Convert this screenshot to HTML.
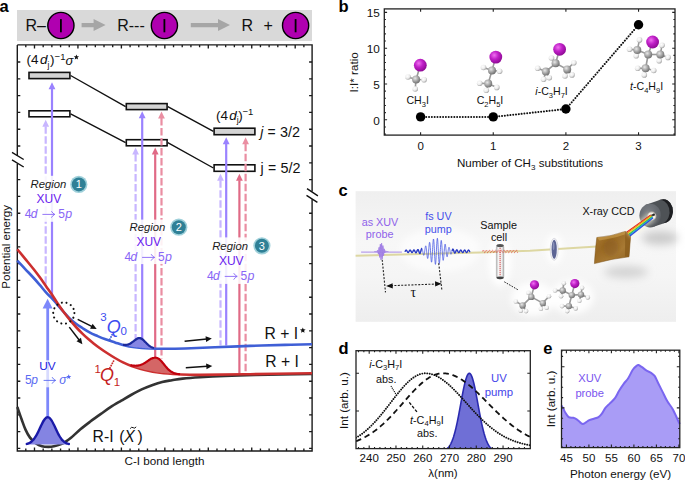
<!DOCTYPE html>
<html><head><meta charset="utf-8"><style>
html,body{margin:0;padding:0;background:#fff;width:685px;height:481px;overflow:hidden}
svg{display:block}
text{font-family:"Liberation Sans", sans-serif}
</style></head><body>
<svg width="685" height="481" viewBox="0 0 685 481">
<defs>
<radialGradient id="gI" cx="0.38" cy="0.35" r="0.7"><stop offset="0" stop-color="#f070f0"/><stop offset="0.45" stop-color="#c020c8"/><stop offset="1" stop-color="#8a0890"/></radialGradient>
<radialGradient id="gC" cx="0.38" cy="0.35" r="0.7"><stop offset="0" stop-color="#e8e8e8"/><stop offset="0.5" stop-color="#a8a8a8"/><stop offset="1" stop-color="#6a6a6a"/></radialGradient>
<radialGradient id="gH" cx="0.38" cy="0.35" r="0.7"><stop offset="0" stop-color="#ffffff"/><stop offset="0.55" stop-color="#ececec"/><stop offset="1" stop-color="#9c9c9c"/></radialGradient>
<linearGradient id="cbg" x1="0" y1="0" x2="0" y2="1"><stop offset="0" stop-color="#efefef"/><stop offset="0.4" stop-color="#f7f7f7"/><stop offset="0.65" stop-color="#f5f5f5"/><stop offset="1" stop-color="#eeeeee"/></linearGradient>
<linearGradient id="cellg" x1="0" y1="0" x2="1" y2="0"><stop offset="0" stop-color="#a8a8a8"/><stop offset="0.25" stop-color="#f6f6f6"/><stop offset="0.75" stop-color="#eeeeee"/><stop offset="1" stop-color="#a0a0a0"/></linearGradient>
<linearGradient id="grat" x1="0" y1="0" x2="1" y2="1"><stop offset="0" stop-color="#a87a30"/><stop offset="0.35" stop-color="#9a6a24"/><stop offset="0.65" stop-color="#a87a34"/><stop offset="1" stop-color="#8a5e1e"/></linearGradient>
<filter id="blur2" x="-50%" y="-50%" width="200%" height="200%"><feGaussianBlur stdDeviation="2"/></filter>
<filter id="blur3" x="-50%" y="-50%" width="200%" height="200%"><feGaussianBlur stdDeviation="3"/></filter>
<filter id="blur4" x="-50%" y="-50%" width="200%" height="200%"><feGaussianBlur stdDeviation="4"/></filter>
<radialGradient id="ccdf" cx="0.4" cy="0.35" r="0.75"><stop offset="0" stop-color="#7a7e84"/><stop offset="0.7" stop-color="#62666c"/><stop offset="1" stop-color="#45484c"/></radialGradient>
</defs>
<text x="-0.6" y="12.2" font-size="16.5" font-weight="bold" fill="#000">a</text>
<rect x="17" y="10" width="295" height="31" fill="#d9d9d9"/>
<text x="25.50" y="30.90" font-size="16.00" fill="#111" text-anchor="start" >R–</text>
<circle cx="60.90" cy="25.50" r="13.1" fill="#b000b0" stroke="#000" stroke-width="1.4"/>
<rect x="60.00" y="19.10" width="1.8" height="13.2" fill="#000"/>
<path d="M81.60,23.00 H93.60 V19.10 L105.60,25.10 L93.60,31.10 V27.20 H81.60 Z" fill="#a6a6a6"/>
<text x="117.20" y="30.90" font-size="16.00" fill="#111" text-anchor="start" >R---</text>
<circle cx="164.40" cy="25.50" r="13.1" fill="#b000b0" stroke="#000" stroke-width="1.4"/>
<rect x="163.50" y="19.10" width="1.8" height="13.2" fill="#000"/>
<path d="M190.80,23.00 H218.00 V19.10 L230.00,25.10 L218.00,31.10 V27.20 H190.80 Z" fill="#a6a6a6"/>
<text x="241.50" y="30.90" font-size="16.00" fill="#111" text-anchor="start" >R</text>
<text x="263.50" y="30.90" font-size="16.00" fill="#111" text-anchor="start" >+</text>
<circle cx="295.60" cy="25.50" r="13.1" fill="#b000b0" stroke="#000" stroke-width="1.4"/>
<rect x="294.70" y="19.10" width="1.8" height="13.2" fill="#000"/>
<path d="M25.80,44.90V47.30M25.80,451.00V448.60M34.49,44.90V48.50M34.49,451.00V447.40M43.18,44.90V47.30M43.18,451.00V448.60M51.87,44.90V47.30M51.87,451.00V448.60M60.56,44.90V47.30M60.56,451.00V448.60M69.25,44.90V47.30M69.25,451.00V448.60M77.94,44.90V48.50M77.94,451.00V447.40M86.63,44.90V47.30M86.63,451.00V448.60M95.32,44.90V47.30M95.32,451.00V448.60M104.01,44.90V47.30M104.01,451.00V448.60M112.70,44.90V47.30M112.70,451.00V448.60M121.39,44.90V48.50M121.39,451.00V447.40M130.08,44.90V47.30M130.08,451.00V448.60M138.77,44.90V47.30M138.77,451.00V448.60M147.46,44.90V47.30M147.46,451.00V448.60M156.15,44.90V47.30M156.15,451.00V448.60M164.84,44.90V48.50M164.84,451.00V447.40M173.53,44.90V47.30M173.53,451.00V448.60M182.22,44.90V47.30M182.22,451.00V448.60M190.91,44.90V47.30M190.91,451.00V448.60M199.60,44.90V47.30M199.60,451.00V448.60M208.29,44.90V48.50M208.29,451.00V447.40M216.98,44.90V47.30M216.98,451.00V448.60M225.67,44.90V47.30M225.67,451.00V448.60M234.36,44.90V47.30M234.36,451.00V448.60M243.05,44.90V47.30M243.05,451.00V448.60M251.74,44.90V48.50M251.74,451.00V447.40M260.43,44.90V47.30M260.43,451.00V448.60M269.12,44.90V47.30M269.12,451.00V448.60M277.81,44.90V47.30M277.81,451.00V448.60M286.50,44.90V47.30M286.50,451.00V448.60M295.19,44.90V48.50M295.19,451.00V447.40M303.88,44.90V47.30M303.88,451.00V448.60M17.30,62.00H20.30M312.10,62.00H309.10M17.30,78.80H20.30M312.10,78.80H309.10M17.30,95.60H20.30M312.10,95.60H309.10M17.30,112.40H20.30M312.10,112.40H309.10M17.30,129.20H20.30M312.10,129.20H309.10M17.30,146.00H20.30M312.10,146.00H309.10M312.10,162.80H309.10M17.30,179.60H20.30M312.10,179.60H309.10M17.30,196.40H20.30M17.30,213.20H20.30M312.10,213.20H309.10M17.30,230.00H20.30M312.10,230.00H309.10M17.30,246.80H20.30M312.10,246.80H309.10M17.30,263.60H20.30M312.10,263.60H309.10M17.30,280.40H20.30M312.10,280.40H309.10M17.30,297.20H20.30M312.10,297.20H309.10M17.30,314.00H20.30M312.10,314.00H309.10M17.30,330.80H20.30M312.10,330.80H309.10M17.30,347.60H20.30M312.10,347.60H309.10M17.30,364.40H20.30M312.10,364.40H309.10M17.30,381.20H20.30M312.10,381.20H309.10M17.30,398.00H20.30M312.10,398.00H309.10M17.30,414.80H20.30M312.10,414.80H309.10M17.30,431.60H20.30M312.10,431.60H309.10M17.30,448.40H20.30M312.10,448.40H309.10" stroke="#1a1a1a" stroke-width="1.35" fill="none"/>
<path d="M17.30,44.90 H312.10 V191.5 M312.10,199.2 V451.00 H17.30 V163.8 M17.30,155.8 V44.90" stroke="#1a1a1a" stroke-width="1.4" fill="none"/>
<path d="M12,152.3 L23.7,159.5 M12,159.8 L23.7,167 M307,188.7 L317.9,195.8 M306.5,195.4 L317.4,202.4" stroke="#111" stroke-width="1.4"/>
<path d="M70.6,75.5 L125.6,106.6 M167.8,106.6 L213.4,131.4 M70.6,113.8 L125.6,142.7 M167.8,142.7 L213.4,168" stroke="#111" stroke-width="1.4" fill="none"/>
<rect x="29.00" y="72.40" width="40.90" height="6.20" fill="#d4d4d4" stroke="#111" stroke-width="1.6"/>
<rect x="29.00" y="110.80" width="40.90" height="6.00" fill="#fff" stroke="#111" stroke-width="1.6"/>
<rect x="126.30" y="103.60" width="40.80" height="6.00" fill="#d4d4d4" stroke="#111" stroke-width="1.6"/>
<rect x="126.30" y="139.70" width="40.80" height="6.10" fill="#fff" stroke="#111" stroke-width="1.6"/>
<rect x="214.10" y="128.20" width="40.80" height="6.50" fill="#d4d4d4" stroke="#111" stroke-width="1.6"/>
<rect x="214.10" y="164.80" width="40.80" height="6.50" fill="#fff" stroke="#111" stroke-width="1.6"/>
<line x1="45.70" y1="126.30" x2="45.70" y2="286.00" stroke="#c8b6ff" stroke-width="2.20" stroke-dasharray="7.5,2.5"/>
<path d="M45.70,119.80 L49.10,126.80 L42.30,126.80 Z" fill="#c8b6ff"/>
<line x1="52.00" y1="88.80" x2="52.00" y2="298.00" stroke="#9a82ff" stroke-width="2.20"/>
<path d="M52.00,82.30 L55.40,89.30 L48.60,89.30 Z" fill="#9a82ff"/>
<line x1="135.60" y1="154.10" x2="135.60" y2="339.50" stroke="#c8b6ff" stroke-width="2.20" stroke-dasharray="7.5,2.5"/>
<path d="M135.60,147.60 L139.00,154.60 L132.20,154.60 Z" fill="#c8b6ff"/>
<line x1="142.20" y1="117.70" x2="142.20" y2="338.50" stroke="#9a82ff" stroke-width="2.20"/>
<path d="M142.20,111.20 L145.60,118.20 L138.80,118.20 Z" fill="#9a82ff"/>
<line x1="155.20" y1="154.10" x2="155.20" y2="357.50" stroke="#e06a86" stroke-width="2.20"/>
<path d="M155.20,147.60 L158.60,154.60 L151.80,154.60 Z" fill="#e06a86"/>
<line x1="161.50" y1="118.10" x2="161.50" y2="358.50" stroke="#ea8ea2" stroke-width="2.20" stroke-dasharray="7.5,2.5"/>
<path d="M161.50,111.60 L164.90,118.60 L158.10,118.60 Z" fill="#ea8ea2"/>
<line x1="220.50" y1="180.30" x2="220.50" y2="345.50" stroke="#c8b6ff" stroke-width="2.20" stroke-dasharray="7.5,2.5"/>
<path d="M220.50,173.80 L223.90,180.80 L217.10,180.80 Z" fill="#c8b6ff"/>
<line x1="226.20" y1="143.70" x2="226.20" y2="345.50" stroke="#9a82ff" stroke-width="2.20"/>
<path d="M226.20,137.20 L229.60,144.20 L222.80,144.20 Z" fill="#9a82ff"/>
<line x1="239.40" y1="180.30" x2="239.40" y2="373.50" stroke="#e06a86" stroke-width="2.20"/>
<path d="M239.40,173.80 L242.80,180.80 L236.00,180.80 Z" fill="#e06a86"/>
<line x1="245.60" y1="143.70" x2="245.60" y2="373.50" stroke="#ea8ea2" stroke-width="2.20" stroke-dasharray="7.5,2.5"/>
<path d="M245.60,137.20 L249.00,144.20 L242.20,144.20 Z" fill="#ea8ea2"/>
<text x="26.60" y="64.40" font-size="13.50" fill="#111" >(</text>
<text x="31.00" y="64.40" font-size="13.50" fill="#111" >4</text>
<text x="40.00" y="64.40" font-size="13.50" fill="#111" font-style="italic" >d</text>
<text x="47.60" y="67.60" font-size="8.50" fill="#111" >j</text>
<text x="50.00" y="64.40" font-size="13.50" fill="#111" >)</text>
<text x="54.60" y="60.00" font-size="9.50" fill="#111" >−1</text>
<text x="65.60" y="64.60" font-size="13.00" fill="#111" font-style="italic" >σ</text>
<polygon points="76.40,54.40 77.14,56.18 79.06,56.33 77.60,57.59 78.05,59.47 76.40,58.46 74.75,59.47 75.20,57.59 73.74,56.33 75.66,56.18" fill="#111"/>
<text x="216.00" y="120.00" font-size="13.50" fill="#111" >(</text>
<text x="220.40" y="120.00" font-size="13.50" fill="#111" >4</text>
<text x="229.20" y="120.00" font-size="13.50" fill="#111" font-style="italic" >d</text>
<text x="236.80" y="123.00" font-size="8.50" fill="#111" >j</text>
<text x="238.20" y="120.00" font-size="13.50" fill="#111" >)</text>
<text x="242.40" y="115.00" font-size="9.50" fill="#111" >−1</text>
<text x="260.20" y="137.00" font-size="14.00" fill="#111" font-style="italic" >j</text>
<text x="267.40" y="137.00" font-size="14.00" fill="#111" >=</text>
<text x="280.00" y="137.00" font-size="14.40" fill="#111" >3/2</text>
<text x="260.60" y="172.80" font-size="14.00" fill="#111" >j</text>
<text x="268.00" y="172.80" font-size="14.00" fill="#111" >=</text>
<text x="280.40" y="172.80" font-size="14.40" fill="#111" >5/2</text>
<path d="M17.30,407.00 C18.00,409.00 20.13,415.23 21.50,419.00 C22.87,422.77 24.08,426.50 25.50,429.60 C26.92,432.70 28.25,435.30 30.00,437.60 C31.75,439.90 34.00,441.97 36.00,443.40 C38.00,444.83 39.95,445.62 42.00,446.20 C44.05,446.78 46.30,446.88 48.30,446.90 C50.30,446.92 51.97,446.72 54.00,446.30 C56.03,445.88 58.50,445.22 60.50,444.40 C62.50,443.58 64.25,442.50 66.00,441.40 C67.75,440.30 68.60,439.82 71.00,437.80 C73.40,435.78 77.23,431.97 80.40,429.30 C83.57,426.63 86.58,424.37 90.00,421.80 C93.42,419.23 97.48,416.33 100.90,413.90 C104.32,411.47 107.10,409.40 110.50,407.20 C113.90,405.00 117.88,402.73 121.30,400.70 C124.72,398.67 127.60,396.88 131.00,395.00 C134.40,393.12 138.20,391.03 141.70,389.40 C145.20,387.77 148.58,386.45 152.00,385.20 C155.42,383.95 158.87,382.73 162.20,381.90 C165.53,381.07 168.60,380.75 172.00,380.20 C175.40,379.65 177.93,379.10 182.60,378.60 C187.27,378.10 192.93,377.65 200.00,377.20 C207.07,376.75 215.83,376.27 225.00,375.90 C234.17,375.53 240.50,375.32 255.00,375.00 C269.50,374.68 302.50,374.17 312.00,374.00" stroke="#333" stroke-width="2.6" fill="none"/>
<rect x="23.40" y="175.80" width="50.60" height="46.00" fill="#fff" fill-opacity="0.88"/>
<rect x="104.40" y="219.60" width="88.30" height="44.50" fill="#fff" fill-opacity="0.88"/>
<rect x="202.30" y="237.40" width="56.70" height="46.50" fill="#fff" fill-opacity="0.88"/>
<rect x="24.10" y="360.20" width="55.70" height="27.10" fill="#fff" fill-opacity="0.88"/>
<path d="M17.30,260.60 C18.58,261.97 22.27,265.90 25.00,268.80 C27.73,271.70 31.20,275.27 33.70,278.00 C36.20,280.73 37.92,282.77 40.00,285.20 C42.08,287.63 44.13,290.33 46.20,292.60 C48.27,294.87 50.52,296.77 52.40,298.80 C54.28,300.83 55.62,302.60 57.50,304.80 C59.38,307.00 61.63,309.68 63.70,312.00 C65.77,314.32 67.85,316.73 69.90,318.70 C71.95,320.67 73.92,322.25 76.00,323.80 C78.08,325.35 80.07,326.53 82.40,328.00 C84.73,329.47 87.57,331.30 90.00,332.60 C92.43,333.90 94.53,334.73 97.00,335.80 C99.47,336.87 101.80,337.90 104.80,339.00 C107.80,340.10 111.97,341.40 115.00,342.40 C118.03,343.40 119.67,344.18 123.00,345.00 C126.33,345.82 130.50,346.72 135.00,347.30 C139.50,347.88 145.00,348.25 150.00,348.50 C155.00,348.75 159.17,348.80 165.00,348.80 C170.83,348.80 176.67,348.75 185.00,348.50 C193.33,348.25 204.17,347.73 215.00,347.30 C225.83,346.87 238.33,346.30 250.00,345.90 C261.67,345.50 274.67,345.17 285.00,344.90 C295.33,344.63 307.50,344.40 312.00,344.30" stroke="#3f5fd6" stroke-width="2.6" fill="none"/>
<path d="M17.30,249.20 C18.58,250.77 22.27,255.25 25.00,258.60 C27.73,261.95 31.20,266.13 33.70,269.30 C36.20,272.47 37.92,274.75 40.00,277.60 C42.08,280.45 44.13,283.47 46.20,286.40 C48.27,289.33 50.52,292.40 52.40,295.20 C54.28,298.00 55.62,300.40 57.50,303.20 C59.38,306.00 61.63,309.22 63.70,312.00 C65.77,314.78 67.85,317.40 69.90,319.90 C71.95,322.40 73.92,324.72 76.00,327.00 C78.08,329.28 80.40,331.63 82.40,333.60 C84.40,335.57 86.13,337.17 88.00,338.80 C89.87,340.43 91.60,341.83 93.60,343.40 C95.60,344.97 97.77,346.60 100.00,348.20 C102.23,349.80 104.50,351.37 107.00,353.00 C109.50,354.63 112.33,356.43 115.00,358.00 C117.67,359.57 120.23,361.07 123.00,362.40 C125.77,363.73 127.93,364.73 131.60,366.00 C135.27,367.27 140.27,368.87 145.00,370.00 C149.73,371.13 154.42,372.08 160.00,372.80 C165.58,373.52 171.83,373.95 178.50,374.30 C185.17,374.65 188.08,374.92 200.00,374.90 C211.92,374.88 231.33,374.48 250.00,374.20 C268.67,373.92 301.67,373.37 312.00,373.20" stroke="#cc2f2f" stroke-width="2.6" fill="none"/>
<path d="M123.00,344.79 C123.13,344.80 123.52,344.84 123.78,344.85 C124.03,344.87 124.29,344.88 124.55,344.88 C124.81,344.89 125.07,344.89 125.33,344.88 C125.58,344.87 125.84,344.86 126.10,344.83 C126.36,344.81 126.62,344.77 126.88,344.73 C127.13,344.69 127.39,344.63 127.65,344.57 C127.91,344.51 128.17,344.43 128.43,344.35 C128.68,344.26 128.94,344.16 129.20,344.05 C129.46,343.94 129.72,343.82 129.97,343.69 C130.23,343.55 130.49,343.41 130.75,343.25 C131.01,343.10 131.27,342.93 131.53,342.75 C131.78,342.58 132.04,342.39 132.30,342.20 C132.56,342.01 132.82,341.81 133.07,341.62 C133.33,341.42 133.59,341.21 133.85,341.01 C134.11,340.82 134.37,340.62 134.62,340.42 C134.88,340.22 135.14,340.02 135.40,339.82 C135.66,339.62 135.92,339.42 136.18,339.24 C136.43,339.06 136.69,338.89 136.95,338.75 C137.21,338.60 137.47,338.48 137.72,338.38 C137.98,338.27 138.24,338.19 138.50,338.14 C138.76,338.09 139.02,338.06 139.28,338.06 C139.53,338.05 139.79,338.08 140.05,338.13 C140.31,338.18 140.57,338.26 140.82,338.36 C141.08,338.47 141.34,338.60 141.60,338.75 C141.86,338.90 142.12,339.07 142.38,339.26 C142.63,339.45 142.89,339.67 143.15,339.89 C143.41,340.12 143.67,340.36 143.93,340.61 C144.18,340.86 144.44,341.12 144.70,341.39 C144.96,341.65 145.22,341.92 145.47,342.19 C145.73,342.46 145.99,342.74 146.25,343.01 C146.51,343.27 146.77,343.54 147.03,343.80 C147.28,344.06 147.54,344.31 147.80,344.55 C148.06,344.79 148.32,345.03 148.57,345.25 C148.83,345.47 149.09,345.69 149.35,345.88 C149.61,346.08 149.87,346.27 150.12,346.44 C150.38,346.61 150.64,346.75 150.90,346.89 C151.16,347.03 151.42,347.15 151.68,347.27 C151.93,347.38 152.19,347.49 152.45,347.58 C152.71,347.68 152.97,347.76 153.22,347.84 C153.48,347.91 153.87,348.01 154.00,348.04 L154.00,348.58 L153.22,348.56 L152.45,348.55 L151.68,348.53 L150.90,348.52 L150.12,348.50 L149.35,348.45 L148.57,348.39 L147.80,348.32 L147.03,348.26 L146.25,348.20 L145.47,348.14 L144.70,348.08 L143.93,348.01 L143.15,347.95 L142.38,347.89 L141.60,347.83 L140.82,347.77 L140.05,347.70 L139.28,347.64 L138.50,347.58 L137.72,347.52 L136.95,347.46 L136.18,347.39 L135.40,347.33 L134.62,347.23 L133.85,347.08 L133.07,346.93 L132.30,346.78 L131.53,346.63 L130.75,346.49 L129.97,346.34 L129.20,346.19 L128.43,346.04 L127.65,345.89 L126.88,345.74 L126.10,345.59 L125.33,345.45 L124.55,345.30 L123.78,345.15 L123.00,345.00 Z" fill="#8686e4" stroke="none"/>
<path d="M123.00,344.79 C123.13,344.80 123.52,344.84 123.78,344.85 C124.03,344.87 124.29,344.88 124.55,344.88 C124.81,344.89 125.07,344.89 125.33,344.88 C125.58,344.87 125.84,344.86 126.10,344.83 C126.36,344.81 126.62,344.77 126.88,344.73 C127.13,344.69 127.39,344.63 127.65,344.57 C127.91,344.51 128.17,344.43 128.43,344.35 C128.68,344.26 128.94,344.16 129.20,344.05 C129.46,343.94 129.72,343.82 129.97,343.69 C130.23,343.55 130.49,343.41 130.75,343.25 C131.01,343.10 131.27,342.93 131.53,342.75 C131.78,342.58 132.04,342.39 132.30,342.20 C132.56,342.01 132.82,341.81 133.07,341.62 C133.33,341.42 133.59,341.21 133.85,341.01 C134.11,340.82 134.37,340.62 134.62,340.42 C134.88,340.22 135.14,340.02 135.40,339.82 C135.66,339.62 135.92,339.42 136.18,339.24 C136.43,339.06 136.69,338.89 136.95,338.75 C137.21,338.60 137.47,338.48 137.72,338.38 C137.98,338.27 138.24,338.19 138.50,338.14 C138.76,338.09 139.02,338.06 139.28,338.06 C139.53,338.05 139.79,338.08 140.05,338.13 C140.31,338.18 140.57,338.26 140.82,338.36 C141.08,338.47 141.34,338.60 141.60,338.75 C141.86,338.90 142.12,339.07 142.38,339.26 C142.63,339.45 142.89,339.67 143.15,339.89 C143.41,340.12 143.67,340.36 143.93,340.61 C144.18,340.86 144.44,341.12 144.70,341.39 C144.96,341.65 145.22,341.92 145.47,342.19 C145.73,342.46 145.99,342.74 146.25,343.01 C146.51,343.27 146.77,343.54 147.03,343.80 C147.28,344.06 147.54,344.31 147.80,344.55 C148.06,344.79 148.32,345.03 148.57,345.25 C148.83,345.47 149.09,345.69 149.35,345.88 C149.61,346.08 149.87,346.27 150.12,346.44 C150.38,346.61 150.64,346.75 150.90,346.89 C151.16,347.03 151.42,347.15 151.68,347.27 C151.93,347.38 152.19,347.49 152.45,347.58 C152.71,347.68 152.97,347.76 153.22,347.84 C153.48,347.91 153.87,348.01 154.00,348.04" stroke="#1c2a9c" stroke-width="2.2" fill="none"/>
<path d="M130.50,365.12 C130.71,365.18 131.33,365.38 131.74,365.46 C132.15,365.55 132.56,365.58 132.97,365.62 C133.39,365.67 133.80,365.70 134.21,365.72 C134.62,365.74 135.04,365.75 135.45,365.75 C135.86,365.74 136.28,365.72 136.69,365.69 C137.10,365.66 137.51,365.61 137.93,365.54 C138.34,365.48 138.75,365.40 139.16,365.30 C139.57,365.20 139.99,365.09 140.40,364.95 C140.81,364.82 141.22,364.67 141.64,364.51 C142.05,364.34 142.46,364.16 142.88,363.97 C143.29,363.77 143.70,363.57 144.11,363.34 C144.53,363.12 144.94,362.88 145.35,362.61 C145.76,362.35 146.18,362.04 146.59,361.75 C147.00,361.46 147.41,361.17 147.82,360.88 C148.24,360.60 148.65,360.31 149.06,360.05 C149.47,359.78 149.89,359.52 150.30,359.28 C150.71,359.04 151.12,358.81 151.54,358.62 C151.95,358.42 152.36,358.25 152.78,358.11 C153.19,357.97 153.60,357.85 154.01,357.78 C154.42,357.70 154.84,357.65 155.25,357.65 C155.66,357.64 156.08,357.66 156.49,357.75 C156.90,357.83 157.31,357.94 157.72,358.14 C158.14,358.34 158.55,358.61 158.96,358.92 C159.38,359.24 159.79,359.63 160.20,360.02 C160.61,360.42 161.03,360.83 161.44,361.29 C161.85,361.74 162.26,362.24 162.68,362.74 C163.09,363.24 163.50,363.76 163.91,364.28 C164.32,364.80 164.74,365.32 165.15,365.83 C165.56,366.34 165.97,366.84 166.39,367.31 C166.80,367.79 167.21,368.25 167.62,368.67 C168.04,369.10 168.45,369.50 168.86,369.87 C169.28,370.24 169.69,370.58 170.10,370.89 C170.51,371.20 170.93,371.48 171.34,371.74 C171.75,371.99 172.16,372.22 172.57,372.42 C172.99,372.62 173.40,372.80 173.81,372.96 C174.22,373.12 174.64,373.25 175.05,373.38 C175.46,373.50 175.88,373.61 176.29,373.70 C176.70,373.80 177.11,373.88 177.53,373.96 C177.94,374.03 178.35,374.10 178.76,374.14 C179.17,374.19 179.79,374.23 180.00,374.24 L180.00,374.34 L178.76,374.31 L177.53,374.22 L176.29,374.12 L175.05,374.02 L173.81,373.92 L172.57,373.82 L171.34,373.72 L170.10,373.62 L168.86,373.52 L167.62,373.42 L166.39,373.32 L165.15,373.22 L163.91,373.12 L162.68,373.02 L161.44,372.92 L160.20,372.82 L158.96,372.61 L157.72,372.38 L156.49,372.14 L155.25,371.91 L154.01,371.68 L152.78,371.45 L151.54,371.22 L150.30,370.99 L149.06,370.76 L147.82,370.53 L146.59,370.30 L145.35,370.07 L144.11,369.74 L142.88,369.37 L141.64,369.00 L140.40,368.63 L139.16,368.26 L137.93,367.89 L136.69,367.52 L135.45,367.15 L134.21,366.78 L132.97,366.41 L131.74,366.04 L130.50,365.54 Z" fill="#d46666" stroke="none"/>
<path d="M130.50,365.12 C130.71,365.18 131.33,365.38 131.74,365.46 C132.15,365.55 132.56,365.58 132.97,365.62 C133.39,365.67 133.80,365.70 134.21,365.72 C134.62,365.74 135.04,365.75 135.45,365.75 C135.86,365.74 136.28,365.72 136.69,365.69 C137.10,365.66 137.51,365.61 137.93,365.54 C138.34,365.48 138.75,365.40 139.16,365.30 C139.57,365.20 139.99,365.09 140.40,364.95 C140.81,364.82 141.22,364.67 141.64,364.51 C142.05,364.34 142.46,364.16 142.88,363.97 C143.29,363.77 143.70,363.57 144.11,363.34 C144.53,363.12 144.94,362.88 145.35,362.61 C145.76,362.35 146.18,362.04 146.59,361.75 C147.00,361.46 147.41,361.17 147.82,360.88 C148.24,360.60 148.65,360.31 149.06,360.05 C149.47,359.78 149.89,359.52 150.30,359.28 C150.71,359.04 151.12,358.81 151.54,358.62 C151.95,358.42 152.36,358.25 152.78,358.11 C153.19,357.97 153.60,357.85 154.01,357.78 C154.42,357.70 154.84,357.65 155.25,357.65 C155.66,357.64 156.08,357.66 156.49,357.75 C156.90,357.83 157.31,357.94 157.72,358.14 C158.14,358.34 158.55,358.61 158.96,358.92 C159.38,359.24 159.79,359.63 160.20,360.02 C160.61,360.42 161.03,360.83 161.44,361.29 C161.85,361.74 162.26,362.24 162.68,362.74 C163.09,363.24 163.50,363.76 163.91,364.28 C164.32,364.80 164.74,365.32 165.15,365.83 C165.56,366.34 165.97,366.84 166.39,367.31 C166.80,367.79 167.21,368.25 167.62,368.67 C168.04,369.10 168.45,369.50 168.86,369.87 C169.28,370.24 169.69,370.58 170.10,370.89 C170.51,371.20 170.93,371.48 171.34,371.74 C171.75,371.99 172.16,372.22 172.57,372.42 C172.99,372.62 173.40,372.80 173.81,372.96 C174.22,373.12 174.64,373.25 175.05,373.38 C175.46,373.50 175.88,373.61 176.29,373.70 C176.70,373.80 177.11,373.88 177.53,373.96 C177.94,374.03 178.35,374.10 178.76,374.14 C179.17,374.19 179.79,374.23 180.00,374.24" stroke="#c0000c" stroke-width="2.2" fill="none"/>
<line x1="47.7" y1="418" x2="47.7" y2="308" stroke="#7d88fb" stroke-width="2.8"/>
<path d="M47.6,298.7 L52.6,308.6 L42.6,308.6 Z" fill="#7d88fb"/>
<rect x="24.1" y="360.2" width="55.7" height="27.1" fill="#fff" fill-opacity="0.7"/>
<path d="M26.80,443.91 C26.98,443.86 27.50,443.73 27.85,443.61 C28.20,443.49 28.55,443.36 28.91,443.21 C29.26,443.05 29.61,442.88 29.96,442.67 C30.31,442.47 30.66,442.24 31.01,441.98 C31.36,441.72 31.71,441.44 32.06,441.12 C32.41,440.79 32.76,440.44 33.12,440.04 C33.47,439.65 33.82,439.22 34.17,438.75 C34.52,438.28 34.87,437.78 35.22,437.23 C35.57,436.69 35.92,436.11 36.27,435.49 C36.62,434.88 36.97,434.22 37.33,433.55 C37.68,432.87 38.03,432.16 38.38,431.43 C38.73,430.71 39.08,429.96 39.43,429.21 C39.78,428.46 40.13,427.69 40.48,426.94 C40.83,426.19 41.18,425.43 41.54,424.71 C41.89,423.99 42.24,423.28 42.59,422.62 C42.94,421.96 43.29,421.32 43.64,420.76 C43.99,420.19 44.34,419.66 44.69,419.21 C45.04,418.76 45.39,418.37 45.75,418.07 C46.10,417.76 46.45,417.53 46.80,417.39 C47.15,417.24 47.50,417.18 47.85,417.21 C48.20,417.23 48.55,417.34 48.90,417.53 C49.25,417.72 49.60,418.00 49.96,418.35 C50.31,418.70 50.66,419.13 51.01,419.61 C51.36,420.10 51.71,420.66 52.06,421.26 C52.41,421.86 52.76,422.52 53.11,423.20 C53.46,423.88 53.81,424.61 54.17,425.34 C54.52,426.07 54.87,426.84 55.22,427.59 C55.57,428.34 55.92,429.11 56.27,429.85 C56.62,430.59 56.97,431.34 57.32,432.05 C57.67,432.76 58.02,433.46 58.38,434.12 C58.73,434.78 59.08,435.41 59.43,436.01 C59.78,436.60 60.13,437.17 60.48,437.69 C60.83,438.21 61.18,438.70 61.53,439.14 C61.88,439.59 62.23,440.00 62.59,440.37 C62.94,440.74 63.29,441.08 63.64,441.38 C63.99,441.69 64.34,441.96 64.69,442.20 C65.04,442.44 65.39,442.65 65.74,442.84 C66.09,443.03 66.44,443.19 66.80,443.33 C67.15,443.48 67.50,443.60 67.85,443.71 C68.20,443.81 68.72,443.94 68.90,443.98 L68.90,444.60 L67.85,444.60 L66.80,444.60 L65.74,444.60 L64.69,444.60 L63.64,444.60 L62.59,444.60 L61.53,444.60 L60.48,444.60 L59.43,444.60 L58.38,444.60 L57.32,444.60 L56.27,444.60 L55.22,444.60 L54.17,444.60 L53.11,444.60 L52.06,444.60 L51.01,444.60 L49.96,444.60 L48.90,444.60 L47.85,444.60 L46.80,444.60 L45.75,444.60 L44.69,444.60 L43.64,444.60 L42.59,444.60 L41.54,444.60 L40.48,444.60 L39.43,444.60 L38.38,444.60 L37.33,444.60 L36.27,444.60 L35.22,444.60 L34.17,444.60 L33.12,444.60 L32.06,444.60 L31.01,444.60 L29.96,444.60 L28.91,444.60 L27.85,444.60 L26.80,444.60 Z" fill="#8484e2" stroke="none"/>
<path d="M26.80,443.91 C26.98,443.86 27.50,443.73 27.85,443.61 C28.20,443.49 28.55,443.36 28.91,443.21 C29.26,443.05 29.61,442.88 29.96,442.67 C30.31,442.47 30.66,442.24 31.01,441.98 C31.36,441.72 31.71,441.44 32.06,441.12 C32.41,440.79 32.76,440.44 33.12,440.04 C33.47,439.65 33.82,439.22 34.17,438.75 C34.52,438.28 34.87,437.78 35.22,437.23 C35.57,436.69 35.92,436.11 36.27,435.49 C36.62,434.88 36.97,434.22 37.33,433.55 C37.68,432.87 38.03,432.16 38.38,431.43 C38.73,430.71 39.08,429.96 39.43,429.21 C39.78,428.46 40.13,427.69 40.48,426.94 C40.83,426.19 41.18,425.43 41.54,424.71 C41.89,423.99 42.24,423.28 42.59,422.62 C42.94,421.96 43.29,421.32 43.64,420.76 C43.99,420.19 44.34,419.66 44.69,419.21 C45.04,418.76 45.39,418.37 45.75,418.07 C46.10,417.76 46.45,417.53 46.80,417.39 C47.15,417.24 47.50,417.18 47.85,417.21 C48.20,417.23 48.55,417.34 48.90,417.53 C49.25,417.72 49.60,418.00 49.96,418.35 C50.31,418.70 50.66,419.13 51.01,419.61 C51.36,420.10 51.71,420.66 52.06,421.26 C52.41,421.86 52.76,422.52 53.11,423.20 C53.46,423.88 53.81,424.61 54.17,425.34 C54.52,426.07 54.87,426.84 55.22,427.59 C55.57,428.34 55.92,429.11 56.27,429.85 C56.62,430.59 56.97,431.34 57.32,432.05 C57.67,432.76 58.02,433.46 58.38,434.12 C58.73,434.78 59.08,435.41 59.43,436.01 C59.78,436.60 60.13,437.17 60.48,437.69 C60.83,438.21 61.18,438.70 61.53,439.14 C61.88,439.59 62.23,440.00 62.59,440.37 C62.94,440.74 63.29,441.08 63.64,441.38 C63.99,441.69 64.34,441.96 64.69,442.20 C65.04,442.44 65.39,442.65 65.74,442.84 C66.09,443.03 66.44,443.19 66.80,443.33 C67.15,443.48 67.50,443.60 67.85,443.71 C68.20,443.81 68.72,443.94 68.90,443.98" stroke="#1a1aa8" stroke-width="2.4" fill="none" stroke-linecap="round"/>
<circle cx="63.8" cy="313.1" r="10.6" fill="none" stroke="#111" stroke-width="2.1" stroke-dasharray="0.01,4.75" stroke-linecap="round"/>
<line x1="77.70" y1="319.30" x2="92.24" y2="326.65" stroke="#111" stroke-width="1.50"/>
<path d="M96.70,328.90 L90.08,328.69 L92.61,323.70 Z" fill="#111"/>
<line x1="69.30" y1="327.10" x2="79.36" y2="340.23" stroke="#111" stroke-width="1.50"/>
<path d="M82.40,344.20 L76.53,341.14 L80.97,337.73 Z" fill="#111"/>
<line x1="184.60" y1="341.20" x2="206.82" y2="338.99" stroke="#111" stroke-width="1.50"/>
<path d="M211.80,338.50 L206.11,341.88 L205.55,336.31 Z" fill="#111"/>
<line x1="185.80" y1="367.80" x2="207.31" y2="366.34" stroke="#111" stroke-width="1.50"/>
<path d="M212.30,366.00 L206.50,369.20 L206.12,363.61 Z" fill="#111"/>
<path d="M109.8,339.2 L113.8,331.4" stroke-width="1.9" stroke-dasharray="0.01,2.5" stroke-linecap="round" fill="none" stroke="#3f5fd6"/>
<path d="M110.0,367.8 L114.2,359.8" stroke-width="1.9" stroke-dasharray="0.01,2.5" stroke-linecap="round" fill="none" stroke="#cc2f2f"/>
<text x="30.60" y="188.30" font-size="11.30" fill="#1a1a1a" font-style="italic" >Region</text>
<circle cx="78.80" cy="184.40" r="8.6" fill="#9fd0da"/>
<circle cx="78.80" cy="184.40" r="7.0" fill="#2f8096"/>
<text x="78.80" y="188.40" font-size="11" fill="#fff" text-anchor="middle">1</text>
<text x="36.50" y="203.20" font-size="12.00" fill="#6a22ee" >XUV</text>
<text x="24.80" y="218.00" font-size="12.00" fill="#8866f6" >4</text>
<text x="30.80" y="218.00" font-size="12.00" fill="#8866f6" font-style="italic" >d</text>
<path d="M42.80,214.40 H54.40 M51.60,211.50 q1.2,2.0 3.0,2.9 M51.60,217.30 q1.2,-2.0 3.0,-2.9" stroke="#8866f6" stroke-width="0.90" fill="none" stroke-linecap="round"/>
<text x="58.20" y="218.00" font-size="12.00" fill="#8866f6" >5</text>
<text x="65.20" y="218.00" font-size="12.40" fill="#8866f6" font-style="italic" >p</text>
<text x="129.60" y="231.00" font-size="11.30" fill="#1a1a1a" font-style="italic" >Region</text>
<circle cx="178.80" cy="227.20" r="8.6" fill="#9fd0da"/>
<circle cx="178.80" cy="227.20" r="7.0" fill="#2f8096"/>
<text x="178.80" y="231.20" font-size="11" fill="#fff" text-anchor="middle">2</text>
<text x="136.40" y="246.00" font-size="12.00" fill="#6a22ee" >XUV</text>
<text x="124.50" y="261.00" font-size="12.00" fill="#8866f6" >4</text>
<text x="130.50" y="261.00" font-size="12.00" fill="#8866f6" font-style="italic" >d</text>
<path d="M142.50,257.40 H154.10 M151.30,254.50 q1.2,2.0 3.0,2.9 M151.30,260.30 q1.2,-2.0 3.0,-2.9" stroke="#8866f6" stroke-width="0.90" fill="none" stroke-linecap="round"/>
<text x="157.90" y="261.00" font-size="12.00" fill="#8866f6" >5</text>
<text x="164.90" y="261.00" font-size="12.40" fill="#8866f6" font-style="italic" >p</text>
<text x="212.20" y="250.00" font-size="11.30" fill="#1a1a1a" font-style="italic" >Region</text>
<circle cx="261.90" cy="245.80" r="8.6" fill="#9fd0da"/>
<circle cx="261.90" cy="245.80" r="7.0" fill="#2f8096"/>
<text x="261.90" y="249.80" font-size="11" fill="#fff" text-anchor="middle">3</text>
<text x="218.90" y="265.00" font-size="12.00" fill="#6a22ee" >XUV</text>
<text x="207.10" y="280.00" font-size="12.00" fill="#8866f6" >4</text>
<text x="213.10" y="280.00" font-size="12.00" fill="#8866f6" font-style="italic" >d</text>
<path d="M225.10,276.40 H236.70 M233.90,273.50 q1.2,2.0 3.0,2.9 M233.90,279.30 q1.2,-2.0 3.0,-2.9" stroke="#8866f6" stroke-width="0.90" fill="none" stroke-linecap="round"/>
<text x="240.50" y="280.00" font-size="12.00" fill="#8866f6" >5</text>
<text x="247.50" y="280.00" font-size="12.40" fill="#8866f6" font-style="italic" >p</text>
<text x="39.30" y="370.40" font-size="11.80" fill="#2424e0" >UV</text>
<text x="25.00" y="383.70" font-size="12.00" fill="#5a6af2" >5</text>
<text x="31.20" y="383.70" font-size="12.00" fill="#5a6af2" font-style="italic" >p</text>
<path d="M44.00,380.40 H55.10 M52.30,377.50 q1.2,2.0 3.0,2.9 M52.30,383.30 q1.2,-2.0 3.0,-2.9" stroke="#5a6af2" stroke-width="0.90" fill="none" stroke-linecap="round"/>
<text x="59.20" y="383.70" font-size="12.00" fill="#5a6af2" font-style="italic" >σ</text>
<polygon points="68.70,374.20 69.41,375.92 71.27,376.07 69.86,377.28 70.29,379.08 68.70,378.11 67.11,379.08 67.54,377.28 66.13,376.07 67.99,375.92" fill="#5a6af2"/>
<text x="100.30" y="321.40" font-size="11.50" fill="#3c4cf0" >3</text>
<text x="106.80" y="332.80" font-size="18.00" fill="#3c4cf0" font-style="italic" >Q</text>
<text x="120.60" y="335.40" font-size="11.50" fill="#3c4cf0" >0</text>
<text x="94.60" y="373.00" font-size="11.50" fill="#c41e1e" >1</text>
<text x="100.00" y="381.40" font-size="18.00" fill="#c41e1e" font-style="italic" >Q</text>
<text x="113.80" y="385.80" font-size="11.50" fill="#c41e1e" >1</text>
<text x="264.60" y="338.50" font-size="15.70" fill="#111" >R + I</text>
<polygon points="302.80,327.40 303.59,329.31 305.65,329.47 304.08,330.82 304.56,332.83 302.80,331.75 301.04,332.83 301.52,330.82 299.95,329.47 302.01,329.31" fill="#111"/>
<text x="265.20" y="367.20" font-size="15.70" fill="#111" >R + I</text>
<text x="92.60" y="441.50" font-size="15.70" fill="#111" >R-I</text>
<text x="119.30" y="441.50" font-size="15.70" fill="#111" >(</text>
<text x="124.20" y="441.50" font-size="15.70" fill="#111" font-style="italic" >X</text>
<text x="137.60" y="441.50" font-size="15.70" fill="#111" >)</text>
<path d="M130.2,428.6 q1.4,-2.2 3,-0.9 t3,-0.9" stroke="#111" stroke-width="1.0" fill="none"/>
<text x="164.50" y="464.50" font-size="11.70" fill="#111" text-anchor="middle">C-I bond length</text>
<text transform="translate(10.4,246.9) rotate(-90)" font-size="11.6" fill="#111" text-anchor="middle">Potential energy</text>
<text x="338.4" y="12.2" font-size="16.5" font-weight="bold" fill="#000">b</text>
<path d="M384.30,134.12H385.90M675.00,134.12H673.40M384.30,126.96H385.90M675.00,126.96H673.40M384.30,119.80H387.10M675.00,119.80H672.20M384.30,112.64H385.90M675.00,112.64H673.40M384.30,105.48H385.90M675.00,105.48H673.40M384.30,98.32H385.90M675.00,98.32H673.40M384.30,91.16H385.90M675.00,91.16H673.40M384.30,84.00H387.10M675.00,84.00H672.20M384.30,76.84H385.90M675.00,76.84H673.40M384.30,69.68H385.90M675.00,69.68H673.40M384.30,62.52H385.90M675.00,62.52H673.40M384.30,55.36H385.90M675.00,55.36H673.40M384.30,48.20H387.10M675.00,48.20H672.20M384.30,41.04H385.90M675.00,41.04H673.40M384.30,33.88H385.90M675.00,33.88H673.40M384.30,26.72H385.90M675.00,26.72H673.40M384.30,19.56H385.90M675.00,19.56H673.40M384.30,12.40H387.10M675.00,12.40H672.20M420.60,135.10V132.30M420.60,8.90V11.70M493.25,135.10V132.30M493.25,8.90V11.70M565.90,135.10V132.30M565.90,8.90V11.70M638.55,135.10V132.30M638.55,8.90V11.70" stroke="#222" stroke-width="1.1" fill="none"/>
<rect x="384.30" y="8.90" width="290.70" height="126.20" fill="none" stroke="#222" stroke-width="1.3"/>
<text x="379.80" y="124.80" font-size="11.80" fill="#111" text-anchor="end">0</text>
<text x="379.80" y="89.00" font-size="11.80" fill="#111" text-anchor="end">5</text>
<text x="379.80" y="53.20" font-size="11.80" fill="#111" text-anchor="end">10</text>
<text x="379.80" y="17.40" font-size="11.80" fill="#111" text-anchor="end">15</text>
<text x="420.60" y="150.10" font-size="11.50" fill="#111" text-anchor="middle">0</text>
<text x="493.25" y="150.10" font-size="11.50" fill="#111" text-anchor="middle">1</text>
<text x="565.90" y="150.10" font-size="11.50" fill="#111" text-anchor="middle">2</text>
<text x="638.55" y="150.10" font-size="11.50" fill="#111" text-anchor="middle">3</text>
<text x="530.00" y="167.1" font-size="11.6" fill="#111" text-anchor="middle">Number of CH<tspan font-size="8" dy="2.6">3</tspan><tspan dy="-2.6"> substitutions</tspan></text>
<text transform="translate(358.4,72.3) rotate(-90)" font-size="11.7" fill="#111" text-anchor="middle">I:I* ratio</text>
<polyline points="420.60,116.90 493.25,116.90 565.90,109.00 638.55,24.80" fill="none" stroke="#111" stroke-width="2.0" stroke-dasharray="0.01,2.8" stroke-linecap="round"/>
<circle cx="420.60" cy="116.90" r="4.7" fill="#000"/>
<circle cx="493.25" cy="116.90" r="4.7" fill="#000"/>
<circle cx="565.90" cy="109.00" r="4.7" fill="#000"/>
<circle cx="638.55" cy="24.80" r="4.7" fill="#000"/>
<text x="406.4" y="104.2" font-size="10.6" fill="#111">CH<tspan font-size="7.5" dy="2.4">3</tspan><tspan dy="-2.4">I</tspan></text>
<text x="476.7" y="104.2" font-size="10.6" fill="#111">C<tspan font-size="7.5" dy="2.4">2</tspan><tspan dy="-2.4">H</tspan><tspan font-size="7.5" dy="2.4">5</tspan><tspan dy="-2.4">I</tspan></text>
<text x="535.3" y="95.3" font-size="10.6" fill="#111"><tspan font-style="italic">i</tspan>-C<tspan font-size="7.5" dy="2.4">3</tspan><tspan dy="-2.4">H</tspan><tspan font-size="7.5" dy="2.4">7</tspan><tspan dy="-2.4">I</tspan></text>
<text x="630.0" y="90.2" font-size="10.6" fill="#111"><tspan font-style="italic">t</tspan>-C<tspan font-size="7.5" dy="2.4">4</tspan><tspan dy="-2.4">H</tspan><tspan font-size="7.5" dy="2.4">9</tspan><tspan dy="-2.4">I</tspan></text>
<line x1="416.10" y1="79.50" x2="420.30" y2="65.20" stroke="#9a9a9a" stroke-width="1.60"/>
<line x1="416.10" y1="79.50" x2="408.00" y2="77.00" stroke="#9a9a9a" stroke-width="1.60"/>
<line x1="416.10" y1="79.50" x2="424.10" y2="79.80" stroke="#9a9a9a" stroke-width="1.60"/>
<line x1="416.10" y1="79.50" x2="415.20" y2="89.00" stroke="#9a9a9a" stroke-width="1.60"/>
<circle cx="408.00" cy="77.00" r="2.80" fill="url(#gH)"/>
<circle cx="424.10" cy="79.80" r="2.80" fill="url(#gH)"/>
<circle cx="415.20" cy="89.00" r="2.80" fill="url(#gH)"/>
<circle cx="416.10" cy="79.50" r="4.00" fill="url(#gC)"/>
<circle cx="420.30" cy="65.20" r="6.40" fill="url(#gI)"/>
<line x1="492.00" y1="70.40" x2="495.80" y2="57.10" stroke="#9a9a9a" stroke-width="1.60"/>
<line x1="492.00" y1="70.40" x2="488.20" y2="83.60" stroke="#9a9a9a" stroke-width="1.60"/>
<line x1="492.00" y1="70.40" x2="483.50" y2="67.50" stroke="#9a9a9a" stroke-width="1.60"/>
<line x1="492.00" y1="70.40" x2="499.60" y2="71.30" stroke="#9a9a9a" stroke-width="1.60"/>
<line x1="488.20" y1="83.60" x2="479.70" y2="83.30" stroke="#9a9a9a" stroke-width="1.60"/>
<line x1="488.20" y1="83.60" x2="496.80" y2="87.40" stroke="#9a9a9a" stroke-width="1.60"/>
<line x1="488.20" y1="83.60" x2="486.30" y2="90.30" stroke="#9a9a9a" stroke-width="1.60"/>
<circle cx="483.50" cy="67.50" r="2.80" fill="url(#gH)"/>
<circle cx="499.60" cy="71.30" r="2.80" fill="url(#gH)"/>
<circle cx="479.70" cy="83.30" r="2.80" fill="url(#gH)"/>
<circle cx="496.80" cy="87.40" r="2.80" fill="url(#gH)"/>
<circle cx="486.30" cy="90.30" r="2.80" fill="url(#gH)"/>
<circle cx="492.00" cy="70.40" r="4.00" fill="url(#gC)"/>
<circle cx="488.20" cy="83.60" r="4.00" fill="url(#gC)"/>
<circle cx="495.80" cy="57.10" r="6.40" fill="url(#gI)"/>
<line x1="555.60" y1="63.30" x2="559.60" y2="49.30" stroke="#9a9a9a" stroke-width="1.60"/>
<line x1="555.60" y1="63.30" x2="545.80" y2="71.60" stroke="#9a9a9a" stroke-width="1.60"/>
<line x1="555.60" y1="63.30" x2="567.20" y2="69.40" stroke="#9a9a9a" stroke-width="1.60"/>
<line x1="555.60" y1="63.30" x2="551.50" y2="58.00" stroke="#9a9a9a" stroke-width="1.60"/>
<line x1="545.80" y1="71.60" x2="537.70" y2="68.30" stroke="#9a9a9a" stroke-width="1.60"/>
<line x1="545.80" y1="71.60" x2="543.60" y2="79.30" stroke="#9a9a9a" stroke-width="1.60"/>
<line x1="545.80" y1="71.60" x2="549.30" y2="77.70" stroke="#9a9a9a" stroke-width="1.60"/>
<line x1="567.20" y1="69.40" x2="573.80" y2="62.80" stroke="#9a9a9a" stroke-width="1.60"/>
<line x1="567.20" y1="69.40" x2="565.00" y2="76.00" stroke="#9a9a9a" stroke-width="1.60"/>
<line x1="567.20" y1="69.40" x2="572.00" y2="74.90" stroke="#9a9a9a" stroke-width="1.60"/>
<circle cx="551.50" cy="58.00" r="2.80" fill="url(#gH)"/>
<circle cx="537.70" cy="68.30" r="2.80" fill="url(#gH)"/>
<circle cx="543.60" cy="79.30" r="2.80" fill="url(#gH)"/>
<circle cx="549.30" cy="77.70" r="2.80" fill="url(#gH)"/>
<circle cx="573.80" cy="62.80" r="2.80" fill="url(#gH)"/>
<circle cx="565.00" cy="76.00" r="2.80" fill="url(#gH)"/>
<circle cx="572.00" cy="74.90" r="2.80" fill="url(#gH)"/>
<circle cx="555.60" cy="63.30" r="4.00" fill="url(#gC)"/>
<circle cx="545.80" cy="71.60" r="4.00" fill="url(#gC)"/>
<circle cx="567.20" cy="69.40" r="4.00" fill="url(#gC)"/>
<circle cx="559.60" cy="49.30" r="6.40" fill="url(#gI)"/>
<line x1="648.20" y1="54.50" x2="652.60" y2="42.00" stroke="#9a9a9a" stroke-width="1.60"/>
<line x1="648.20" y1="54.50" x2="637.30" y2="50.10" stroke="#9a9a9a" stroke-width="1.60"/>
<line x1="648.20" y1="54.50" x2="660.30" y2="54.50" stroke="#9a9a9a" stroke-width="1.60"/>
<line x1="648.20" y1="54.50" x2="645.60" y2="68.30" stroke="#9a9a9a" stroke-width="1.60"/>
<line x1="637.30" y1="50.10" x2="639.50" y2="39.90" stroke="#9a9a9a" stroke-width="1.60"/>
<line x1="637.30" y1="50.10" x2="629.60" y2="49.30" stroke="#9a9a9a" stroke-width="1.60"/>
<line x1="637.30" y1="50.10" x2="636.20" y2="55.80" stroke="#9a9a9a" stroke-width="1.60"/>
<line x1="660.30" y1="54.50" x2="662.00" y2="45.30" stroke="#9a9a9a" stroke-width="1.60"/>
<line x1="660.30" y1="54.50" x2="668.00" y2="57.40" stroke="#9a9a9a" stroke-width="1.60"/>
<line x1="660.30" y1="54.50" x2="659.20" y2="60.70" stroke="#9a9a9a" stroke-width="1.60"/>
<line x1="645.60" y1="68.30" x2="637.70" y2="68.30" stroke="#9a9a9a" stroke-width="1.60"/>
<line x1="645.60" y1="68.30" x2="653.70" y2="70.50" stroke="#9a9a9a" stroke-width="1.60"/>
<line x1="645.60" y1="68.30" x2="644.30" y2="74.90" stroke="#9a9a9a" stroke-width="1.60"/>
<circle cx="639.50" cy="39.90" r="2.80" fill="url(#gH)"/>
<circle cx="629.60" cy="49.30" r="2.80" fill="url(#gH)"/>
<circle cx="636.20" cy="55.80" r="2.80" fill="url(#gH)"/>
<circle cx="662.00" cy="45.30" r="2.80" fill="url(#gH)"/>
<circle cx="668.00" cy="57.40" r="2.80" fill="url(#gH)"/>
<circle cx="659.20" cy="60.70" r="2.80" fill="url(#gH)"/>
<circle cx="637.70" cy="68.30" r="2.80" fill="url(#gH)"/>
<circle cx="653.70" cy="70.50" r="2.80" fill="url(#gH)"/>
<circle cx="644.30" cy="74.90" r="2.80" fill="url(#gH)"/>
<circle cx="648.20" cy="54.50" r="4.00" fill="url(#gC)"/>
<circle cx="637.30" cy="50.10" r="4.00" fill="url(#gC)"/>
<circle cx="660.30" cy="54.50" r="4.00" fill="url(#gC)"/>
<circle cx="645.60" cy="68.30" r="4.00" fill="url(#gC)"/>
<circle cx="652.60" cy="42.00" r="6.40" fill="url(#gI)"/>
<text x="338.6" y="196.2" font-size="16.5" font-weight="bold" fill="#000">c</text>
<rect x="355.6" y="191.2" width="320.4" height="130.6" fill="url(#cbg)"/>
<g filter="url(#blur3)">
<ellipse cx="500" cy="262" rx="11" ry="24" fill="#fff"/>
<ellipse cx="554.5" cy="249" rx="8" ry="15" fill="#fff"/>
<ellipse cx="533" cy="299" rx="22" ry="17" fill="#fff" fill-opacity="0.9"/>
<ellipse cx="572" cy="297" rx="22" ry="17" fill="#fff" fill-opacity="0.9"/>
<ellipse cx="440" cy="250" rx="40" ry="22" fill="#fff" fill-opacity="0.6"/>
</g>
<g filter="url(#blur4)">
<ellipse cx="626" cy="272" rx="22" ry="6" fill="#c4c4c4" fill-opacity="0.7"/>
<ellipse cx="660" cy="238" rx="18" ry="7" fill="#b8b8b8" fill-opacity="0.7"/>
</g>
<polyline points="355.6,255.8 420,254.0 480,252.6 530,250.8 597,246.6" fill="none" stroke="#ddd7a2" stroke-width="2.0"/>
<line x1="361.1" y1="252.1" x2="401.9" y2="252.1" stroke="#a98ae8" stroke-width="1.0"/>
<ellipse cx="381.3" cy="251.2" rx="3.0" ry="6.0" fill="#c8b4f4" fill-opacity="0.8"/>
<polyline points="374.30,251.51 374.40,251.51 374.50,251.51 374.60,251.51 374.70,251.51 374.80,251.50 374.90,251.49 375.00,251.47 375.10,251.46 375.20,251.45 375.30,251.46 375.40,251.48 375.50,251.52 375.60,251.57 375.70,251.61 375.80,251.63 375.90,251.63 376.00,251.58 376.10,251.50 376.20,251.39 376.30,251.27 376.40,251.19 376.50,251.16 376.60,251.23 376.70,251.39 376.80,251.63 376.90,251.90 377.00,252.13 377.10,252.25 377.20,252.20 377.30,251.94 377.40,251.50 377.50,250.96 377.60,250.43 377.70,250.07 377.80,250.02 377.90,250.35 378.00,251.04 378.10,252.00 378.20,253.01 378.30,253.81 378.40,254.16 378.50,253.89 378.60,252.95 378.70,251.50 378.80,249.82 378.90,248.33 379.00,247.42 379.10,247.41 379.20,248.42 379.30,250.32 379.40,252.74 379.50,255.11 379.60,256.85 379.70,257.44 379.80,256.64 379.90,254.52 380.00,251.50 380.10,248.26 380.20,245.57 380.30,244.14 380.40,244.39 380.50,246.34 380.60,249.60 380.70,253.44 380.80,256.95 380.90,259.28 381.00,259.83 381.10,258.46 381.20,255.44 381.30,251.50 381.40,247.56 381.50,244.54 381.60,243.17 381.70,243.72 381.80,246.05 381.90,249.56 382.00,253.40 382.10,256.66 382.20,258.61 382.30,258.86 382.40,257.43 382.50,254.74 382.60,251.50 382.70,248.48 382.80,246.36 382.90,245.56 383.00,246.15 383.10,247.89 383.20,250.26 383.30,252.68 383.40,254.58 383.50,255.59 383.60,255.58 383.70,254.67 383.80,253.18 383.90,251.50 384.00,250.05 384.10,249.11 384.20,248.84 384.30,249.19 384.40,249.99 384.50,251.00 384.60,251.96 384.70,252.65 384.80,252.98 384.90,252.93 385.00,252.57 385.10,252.04 385.20,251.50 385.30,251.06 385.40,250.80 385.50,250.75 385.60,250.87 385.70,251.10 385.80,251.37 385.90,251.61 386.00,251.77 386.10,251.84 386.20,251.81 386.30,251.73 386.40,251.61 386.50,251.50 386.60,251.42 386.70,251.37 386.80,251.37 386.90,251.39 387.00,251.43 387.10,251.48 387.20,251.52 387.30,251.54 387.40,251.55 387.50,251.54 387.60,251.53 387.70,251.51 387.80,251.50 387.90,251.49 388.00,251.49 388.10,251.49 388.20,251.49 388.30,251.49" fill="none" stroke="#9a76e2" stroke-width="0.8"/>
<polyline points="405.00,251.68 405.10,251.49 405.20,251.30 405.30,251.11 405.40,250.92 405.50,250.74 405.60,250.58 405.70,250.43 405.80,250.31 405.90,250.21 406.00,250.14 406.10,250.11 406.20,250.10 406.30,250.12 406.40,250.17 406.50,250.26 406.60,250.37 406.70,250.50 406.80,250.66 406.90,250.83 407.00,251.01 407.10,251.20 407.20,251.40 407.30,251.59 407.40,251.77 407.50,251.94 407.60,252.10 407.70,252.23 407.80,252.35 407.90,252.43 408.00,252.48 408.10,252.51 408.20,252.50 408.30,252.46 408.40,252.39 408.50,252.30 408.60,252.17 408.70,252.03 408.80,251.86 408.90,251.68 409.00,251.49 409.10,251.30 409.20,251.11 409.30,250.92 409.40,250.73 409.50,250.57 409.60,250.42 409.70,250.30 409.80,250.20 409.90,250.13 410.00,250.09 410.10,250.08 410.20,250.10 410.30,250.15 410.40,250.24 410.50,250.35 410.60,250.49 410.70,250.64 410.80,250.82 410.90,251.00 411.00,251.20 411.10,251.40 411.20,251.60 411.30,251.79 411.40,251.96 411.50,252.12 411.60,252.26 411.70,252.38 411.80,252.47 411.90,252.53 412.00,252.55 412.10,252.55 412.20,252.51 412.30,252.44 412.40,252.34 412.50,252.21 412.60,252.06 412.70,251.89 412.80,251.70 412.90,251.51 413.00,251.30 413.10,251.09 413.20,250.89 413.30,250.70 413.40,250.52 413.50,250.36 413.60,250.22 413.70,250.11 413.80,250.04 413.90,249.99 414.00,249.97 414.10,250.00 414.20,250.05 414.30,250.14 414.40,250.26 414.50,250.40 414.60,250.57 414.70,250.76 414.80,250.97 414.90,251.19 415.00,251.41 415.10,251.63 415.20,251.85 415.30,252.05 415.40,252.24 415.50,252.41 415.60,252.54 415.70,252.65 415.80,252.73 415.90,252.76 416.00,252.76 416.10,252.73 416.20,252.65 416.30,252.54 416.40,252.40 416.50,252.22 416.60,252.02 416.70,251.79 416.80,251.55 416.90,251.30 417.00,251.04 417.10,250.79 417.20,250.55 417.30,250.32 417.40,250.11 417.50,249.93 417.60,249.78 417.70,249.66 417.80,249.59 417.90,249.56 418.00,249.58 418.10,249.64 418.20,249.75 418.30,249.89 418.40,250.08 418.50,250.31 418.60,250.56 418.70,250.85 418.80,251.15 418.90,251.46 419.00,251.77 419.10,252.08 419.20,252.38 419.30,252.66 419.40,252.91 419.50,253.12 419.60,253.29 419.70,253.41 419.80,253.48 419.90,253.50 420.00,253.46 420.10,253.36 420.20,253.20 420.30,252.99 420.40,252.73 420.50,252.42 420.60,252.07 420.70,251.70 420.80,251.30 420.90,250.89 421.00,250.48 421.10,250.08 421.20,249.69 421.30,249.34 421.40,249.03 421.50,248.77 421.60,248.57 421.70,248.43 421.80,248.37 421.90,248.38 422.00,248.47 422.10,248.63 422.20,248.88 422.30,249.19 422.40,249.57 422.50,250.01 422.60,250.50 422.70,251.03 422.80,251.58 422.90,252.14 423.00,252.69 423.10,253.23 423.20,253.73 423.30,254.19 423.40,254.58 423.50,254.90 423.60,255.14 423.70,255.28 423.80,255.31 423.90,255.25 424.00,255.07 424.10,254.79 424.20,254.41 424.30,253.93 424.40,253.37 424.50,252.73 424.60,252.04 424.70,251.30 424.80,250.54 424.90,249.77 425.00,249.03 425.10,248.32 425.20,247.66 425.30,247.08 425.40,246.60 425.50,246.22 425.60,245.97 425.70,245.86 425.80,245.88 425.90,246.05 426.00,246.36 426.10,246.82 426.20,247.41 426.30,248.12 426.40,248.93 426.50,249.83 426.60,250.80 426.70,251.81 426.80,252.83 426.90,253.84 427.00,254.82 427.10,255.73 427.20,256.54 427.30,257.24 427.40,257.80 427.50,258.21 427.60,258.44 427.70,258.49 427.80,258.35 427.90,258.01 428.00,257.50 428.10,256.80 428.20,255.94 428.30,254.93 428.40,253.81 428.50,252.59 428.60,251.30 428.70,249.98 428.80,248.67 428.90,247.39 429.00,246.19 429.10,245.10 429.20,244.14 429.30,243.35 429.40,242.76 429.50,242.37 429.60,242.22 429.70,242.30 429.80,242.62 429.90,243.18 430.00,243.96 430.10,244.95 430.20,246.13 430.30,247.47 430.40,248.94 430.50,250.50 430.60,252.11 430.70,253.73 430.80,255.31 430.90,256.82 431.00,258.20 431.10,259.43 431.20,260.47 431.30,261.28 431.40,261.85 431.50,262.14 431.60,262.16 431.70,261.89 431.80,261.33 431.90,260.51 432.00,259.43 432.10,258.12 432.20,256.61 432.30,254.94 432.40,253.16 432.50,251.30 432.60,249.42 432.70,247.56 432.80,245.78 432.90,244.13 433.00,242.64 433.10,241.37 433.20,240.34 433.30,239.58 433.40,239.13 433.50,238.99 433.60,239.17 433.70,239.68 433.80,240.49 433.90,241.59 434.00,242.95 434.10,244.55 434.20,246.33 434.30,248.25 434.40,250.27 434.50,252.33 434.60,254.38 434.70,256.35 434.80,258.21 434.90,259.89 435.00,261.36 435.10,262.57 435.20,263.50 435.30,264.10 435.40,264.38 435.50,264.32 435.60,263.91 435.70,263.18 435.80,262.13 435.90,260.80 436.00,259.22 436.10,257.43 436.20,255.48 436.30,253.42 436.40,251.30 436.50,249.18 436.60,247.12 436.70,245.17 436.80,243.38 436.90,241.80 437.00,240.47 437.10,239.42 437.20,238.69 437.30,238.28 437.40,238.22 437.50,238.50 437.60,239.10 437.70,240.03 437.80,241.24 437.90,242.71 438.00,244.39 438.10,246.25 438.20,248.22 438.30,250.27 438.40,252.33 438.50,254.35 438.60,256.27 438.70,258.05 438.80,259.65 438.90,261.01 439.00,262.11 439.10,262.92 439.20,263.43 439.30,263.61 439.40,263.47 439.50,263.02 439.60,262.26 439.70,261.23 439.80,259.96 439.90,258.47 440.00,256.82 440.10,255.04 440.20,253.18 440.30,251.30 440.40,249.44 440.50,247.66 440.60,245.99 440.70,244.48 440.80,243.17 440.90,242.09 441.00,241.27 441.10,240.71 441.20,240.44 441.30,240.46 441.40,240.75 441.50,241.32 441.60,242.13 441.70,243.17 441.80,244.40 441.90,245.78 442.00,247.29 442.10,248.87 442.20,250.49 442.30,252.10 442.40,253.66 442.50,255.13 442.60,256.47 442.70,257.65 442.80,258.64 442.90,259.42 443.00,259.98 443.10,260.30 443.20,260.38 443.30,260.23 443.40,259.84 443.50,259.25 443.60,258.46 443.70,257.50 443.80,256.41 443.90,255.21 444.00,253.93 444.10,252.62 444.20,251.30 444.30,250.01 444.40,248.79 444.50,247.67 444.60,246.66 444.70,245.80 444.80,245.10 444.90,244.59 445.00,244.25 445.10,244.11 445.20,244.16 445.30,244.39 445.40,244.80 445.50,245.36 445.60,246.06 445.70,246.87 445.80,247.78 445.90,248.76 446.00,249.77 446.10,250.79 446.20,251.80 446.30,252.77 446.40,253.67 446.50,254.48 446.60,255.19 446.70,255.78 446.80,256.24 446.90,256.55 447.00,256.72 447.10,256.74 447.20,256.63 447.30,256.38 447.40,256.00 447.50,255.52 447.60,254.94 447.70,254.28 447.80,253.57 447.90,252.83 448.00,252.06 448.10,251.30 448.20,250.56 448.30,249.87 448.40,249.23 448.50,248.67 448.60,248.19 448.70,247.81 448.80,247.53 448.90,247.35 449.00,247.29 449.10,247.32 449.20,247.46 449.30,247.70 449.40,248.02 449.50,248.41 449.60,248.87 449.70,249.37 449.80,249.91 449.90,250.46 450.00,251.02 450.10,251.57 450.20,252.10 450.30,252.59 450.40,253.03 450.50,253.41 450.60,253.72 450.70,253.97 450.80,254.13 450.90,254.22 451.00,254.23 451.10,254.17 451.20,254.03 451.30,253.83 451.40,253.57 451.50,253.26 451.60,252.91 451.70,252.52 451.80,252.12 451.90,251.71 452.00,251.30 452.10,250.90 452.20,250.53 452.30,250.18 452.40,249.87 452.50,249.61 452.60,249.40 452.70,249.24 452.80,249.14 452.90,249.10 453.00,249.12 453.10,249.19 453.20,249.31 453.30,249.48 453.40,249.69 453.50,249.94 453.60,250.22 453.70,250.52 453.80,250.83 453.90,251.14 454.00,251.45 454.10,251.75 454.20,252.04 454.30,252.29 454.40,252.52 454.50,252.71 454.60,252.85 454.70,252.96 454.80,253.02 454.90,253.04 455.00,253.01 455.10,252.94 455.20,252.82 455.30,252.67 455.40,252.49 455.50,252.28 455.60,252.05 455.70,251.81 455.80,251.56 455.90,251.30 456.00,251.05 456.10,250.81 456.20,250.58 456.30,250.38 456.40,250.20 456.50,250.06 456.60,249.95 456.70,249.87 456.80,249.84 456.90,249.84 457.00,249.87 457.10,249.95 457.20,250.06 457.30,250.19 457.40,250.36 457.50,250.55 457.60,250.75 457.70,250.97 457.80,251.19 457.90,251.41 458.00,251.63 458.10,251.84 458.20,252.03 458.30,252.20 458.40,252.34 458.50,252.46 458.60,252.55 458.70,252.60 458.80,252.63 458.90,252.61 459.00,252.56 459.10,252.49 459.20,252.38 459.30,252.24 459.40,252.08 459.50,251.90 459.60,251.71 459.70,251.51 459.80,251.30 459.90,251.09 460.00,250.90 460.10,250.71 460.20,250.54 460.30,250.39 460.40,250.26 460.50,250.16 460.60,250.09 460.70,250.05 460.80,250.05 460.90,250.07 461.00,250.13 461.10,250.22 461.20,250.34 461.30,250.48 461.40,250.64 461.50,250.81 461.60,251.00 461.70,251.20 461.80,251.40 461.90,251.60 462.00,251.78 462.10,251.96 462.20,252.11 462.30,252.25 462.40,252.36 462.50,252.45 462.60,252.50 462.70,252.52 462.80,252.51 462.90,252.47 463.00,252.40 463.10,252.30 463.20,252.18 463.30,252.03 463.40,251.87 463.50,251.68 463.60,251.49 463.70,251.30 463.80,251.11 463.90,250.92 464.00,250.74 464.10,250.57 464.20,250.43 464.30,250.30 464.40,250.21 464.50,250.14 464.60,250.10 464.70,250.09 464.80,250.12 464.90,250.17 465.00,250.25 465.10,250.37 465.20,250.50 465.30,250.66 465.40,250.83 465.50,251.01 465.60,251.20 465.70,251.40 465.80,251.59 465.90,251.77 466.00,251.94 466.10,252.10 466.20,252.23 466.30,252.34 466.40,252.43 466.50,252.48 466.60,252.50 466.70,252.49 466.80,252.46 466.90,252.39 467.00,252.29 467.10,252.17 467.20,252.02 467.30,251.86 467.40,251.68 467.50,251.49 467.60,251.30 467.70,251.11 467.80,250.92 467.90,250.74 468.00,250.58 468.10,250.43 468.20,250.31 468.30,250.21 468.40,250.15 468.50,250.11 468.60,250.10 468.70,250.12 468.80,250.18 468.90,250.26 469.00,250.37 469.10,250.50 469.20,250.66 469.30,250.83 469.40,251.01 469.50,251.20 469.60,251.40 469.70,251.59 469.80,251.77 469.90,251.94 470.00,252.10" fill="none" stroke="#3b4de0" stroke-width="0.75"/>
<polyline points="405.00,251.68 405.10,251.49 405.20,251.30 405.30,251.11 405.40,250.92 405.50,250.74 405.60,250.58 405.70,250.43 405.80,250.31 405.90,250.21 406.00,250.14 406.10,250.11 406.20,250.10 406.30,250.12 406.40,250.17 406.50,250.26 406.60,250.37 406.70,250.50 406.80,250.66 406.90,250.83 407.00,251.01 407.10,251.20 407.20,251.40 407.30,251.59 407.40,251.77 407.50,251.94 407.60,252.10 407.70,252.23 407.80,252.35 407.90,252.43 408.00,252.48 408.10,252.51 408.20,252.50 408.30,252.46 408.40,252.39 408.50,252.30 408.60,252.17 408.70,252.03 408.80,251.86 408.90,251.68 409.00,251.49 409.10,251.30 409.20,251.11 409.30,250.92 409.40,250.73 409.50,250.57 409.60,250.42 409.70,250.30 409.80,250.20 409.90,250.13 410.00,250.09 410.10,250.08 410.20,250.10 410.30,250.15 410.40,250.24 410.50,250.35 410.60,250.49 410.70,250.64 410.80,250.82 410.90,251.00 411.00,251.20 411.10,251.40 411.20,251.60 411.30,251.79 411.40,251.96 411.50,252.12 411.60,252.26 411.70,252.38 411.80,252.47 411.90,252.53 412.00,252.55 412.10,252.55 412.20,252.51 412.30,252.44 412.40,252.34 412.50,252.21 412.60,252.06 412.70,251.89 412.80,251.70 412.90,251.51 413.00,251.30 413.10,251.09 413.20,250.89 413.30,250.70 413.40,250.52 413.50,250.36 413.60,250.22 413.70,250.11 413.80,250.04 413.90,249.99 414.00,249.97 414.10,250.00 414.20,250.05 414.30,250.14 414.40,250.26 414.50,250.40 414.60,250.57 414.70,250.76 414.80,250.97 414.90,251.19 415.00,251.41 415.10,251.63 415.20,251.85 415.30,252.05 415.40,252.24 415.50,252.41 415.60,252.54 415.70,252.65 415.80,252.73 415.90,252.76 416.00,252.76 416.10,252.73 416.20,252.65 416.30,252.54 416.40,252.40 416.50,252.22 416.60,252.02 416.70,251.79 416.80,251.55 416.90,251.30 417.00,251.04 417.10,250.79 417.20,250.55 417.30,250.32 417.40,250.11 417.50,249.93 417.60,249.78 417.70,249.66 417.80,249.59 417.90,249.56 418.00,249.58 418.10,249.64 418.20,249.75 418.30,249.89 418.40,250.08 418.50,250.31 418.60,250.56 418.70,250.85 418.80,251.15 418.90,251.46 419.00,251.77 419.10,252.08 419.20,252.38 419.30,252.66 419.40,252.91 419.50,253.12 419.60,253.29 419.70,253.41 419.80,253.48 419.90,253.50 420.00,253.46 420.10,253.36 420.20,253.20 420.30,252.99 420.40,252.73 420.50,252.42 420.60,252.07 420.70,251.70 420.80,251.30 420.90,250.89 421.00,250.48 421.10,250.08 421.20,249.69 421.30,249.34 421.40,249.03 421.50,248.77 421.60,248.57 421.70,248.43 421.80,248.37 421.90,248.38" fill="none" stroke="#2a3ac0" stroke-width="1.3"/>
<polyline points="452.10,250.90 452.20,250.53 452.30,250.18 452.40,249.87 452.50,249.61 452.60,249.40 452.70,249.24 452.80,249.14 452.90,249.10 453.00,249.12 453.10,249.19 453.20,249.31 453.30,249.48 453.40,249.69 453.50,249.94 453.60,250.22 453.70,250.52 453.80,250.83 453.90,251.14 454.00,251.45 454.10,251.75 454.20,252.04 454.30,252.29 454.40,252.52 454.50,252.71 454.60,252.85 454.70,252.96 454.80,253.02 454.90,253.04 455.00,253.01 455.10,252.94 455.20,252.82 455.30,252.67 455.40,252.49 455.50,252.28 455.60,252.05 455.70,251.81 455.80,251.56 455.90,251.30 456.00,251.05 456.10,250.81 456.20,250.58 456.30,250.38 456.40,250.20 456.50,250.06 456.60,249.95 456.70,249.87 456.80,249.84 456.90,249.84 457.00,249.87 457.10,249.95 457.20,250.06 457.30,250.19 457.40,250.36 457.50,250.55 457.60,250.75 457.70,250.97 457.80,251.19 457.90,251.41 458.00,251.63 458.10,251.84 458.20,252.03 458.30,252.20 458.40,252.34 458.50,252.46 458.60,252.55 458.70,252.60 458.80,252.63 458.90,252.61 459.00,252.56 459.10,252.49 459.20,252.38 459.30,252.24 459.40,252.08 459.50,251.90 459.60,251.71 459.70,251.51 459.80,251.30 459.90,251.09 460.00,250.90 460.10,250.71 460.20,250.54 460.30,250.39 460.40,250.26 460.50,250.16 460.60,250.09 460.70,250.05 460.80,250.05 460.90,250.07 461.00,250.13 461.10,250.22 461.20,250.34 461.30,250.48 461.40,250.64 461.50,250.81 461.60,251.00 461.70,251.20 461.80,251.40 461.90,251.60 462.00,251.78 462.10,251.96 462.20,252.11 462.30,252.25 462.40,252.36 462.50,252.45 462.60,252.50 462.70,252.52 462.80,252.51 462.90,252.47 463.00,252.40 463.10,252.30 463.20,252.18 463.30,252.03 463.40,251.87 463.50,251.68 463.60,251.49 463.70,251.30 463.80,251.11 463.90,250.92 464.00,250.74 464.10,250.57 464.20,250.43 464.30,250.30 464.40,250.21 464.50,250.14 464.60,250.10 464.70,250.09 464.80,250.12 464.90,250.17 465.00,250.25 465.10,250.37 465.20,250.50 465.30,250.66 465.40,250.83 465.50,251.01 465.60,251.20 465.70,251.40 465.80,251.59 465.90,251.77 466.00,251.94 466.10,252.10 466.20,252.23 466.30,252.34 466.40,252.43 466.50,252.48 466.60,252.50 466.70,252.49 466.80,252.46 466.90,252.39 467.00,252.29 467.10,252.17 467.20,252.02 467.30,251.86 467.40,251.68 467.50,251.49 467.60,251.30 467.70,251.11 467.80,250.92 467.90,250.74 468.00,250.58 468.10,250.43 468.20,250.31 468.30,250.21 468.40,250.15 468.50,250.11 468.60,250.10 468.70,250.12 468.80,250.18 468.90,250.26 469.00,250.37 469.10,250.50 469.20,250.66 469.30,250.83 469.40,251.01 469.50,251.20 469.60,251.40 469.70,251.59 469.80,251.77 469.90,251.94 470.00,252.10" fill="none" stroke="#2a3ac0" stroke-width="1.3"/>
<path d="M382.2,259.7 L385.5,292.4 M438.7,263.2 L441.8,289.5" stroke="#222" stroke-width="1.1" stroke-dasharray="2,1.5" fill="none"/>
<line x1="391" y1="285.7" x2="437" y2="284.0" stroke="#222" stroke-width="1.1" stroke-dasharray="2,1.4"/>
<path d="M386.1,286.0 L392.6,283.2 L392.8,288.6 Z M441.6,283.7 L435.0,281.3 L435.2,286.6 Z" fill="#111"/>
<text x="413.2" y="297.3" font-size="14" fill="#111" text-anchor="middle" style="font-family:'Liberation Serif', serif">τ</text>
<text x="380.00" y="225.90" font-size="10.80" fill="#8f62ea" text-anchor="middle">as XUV</text>
<text x="379.60" y="237.90" font-size="10.80" fill="#8f62ea" text-anchor="middle">probe</text>
<text x="438.40" y="220.00" font-size="10.80" fill="#4450ea" text-anchor="middle">fs UV</text>
<text x="438.20" y="232.60" font-size="10.80" fill="#4450ea" text-anchor="middle">pump</text>
<text x="498.60" y="228.70" font-size="10.80" fill="#111" text-anchor="middle">Sample</text>
<text x="499.00" y="240.60" font-size="10.80" fill="#111" text-anchor="middle">cell</text>
<text x="582.40" y="215.30" font-size="10.80" fill="#111" >X-ray CCD</text>
<rect x="496.3" y="244.6" width="7.6" height="34.2" rx="2.4" fill="url(#cellg)" stroke="#b0b0b0" stroke-width="0.5"/>
<ellipse cx="500.1" cy="245.6" rx="3.6" ry="1.6" fill="#555"/>
<ellipse cx="500.1" cy="277.8" rx="3.6" ry="1.4" fill="#444"/>
<line x1="500.1" y1="248" x2="500.1" y2="276" stroke="#d03030" stroke-width="0.9" stroke-dasharray="1.2,0.8"/>
<polyline points="482.60,251.40 482.70,251.11 482.80,250.83 482.90,250.58 483.00,250.36 483.10,250.19 483.20,250.07 483.30,250.01 483.40,250.01 483.50,250.07 483.60,250.19 483.70,250.36 483.80,250.58 483.90,250.83 484.00,251.11 484.10,251.40 484.20,251.69 484.30,251.97 484.40,252.22 484.50,252.44 484.60,252.61 484.70,252.73 484.80,252.79 484.90,252.79 485.00,252.73 485.10,252.61 485.20,252.44 485.30,252.22 485.40,251.97 485.50,251.69 485.60,251.40 485.70,251.11 485.80,250.83 485.90,250.58 486.00,250.36 486.10,250.19 486.20,250.07 486.30,250.01 486.40,250.01 486.50,250.07 486.60,250.19 486.70,250.36 486.80,250.58 486.90,250.83 487.00,251.11 487.10,251.40 487.20,251.69 487.30,251.97 487.40,252.22 487.50,252.44 487.60,252.61 487.70,252.73 487.80,252.79 487.90,252.79 488.00,252.73 488.10,252.61 488.20,252.44 488.30,252.22 488.40,251.97 488.50,251.69 488.60,251.40 488.70,251.11 488.80,250.83 488.90,250.58 489.00,250.36 489.10,250.19 489.20,250.07 489.30,250.01 489.40,250.01 489.50,250.07 489.60,250.19 489.70,250.36 489.80,250.58 489.90,250.83 490.00,251.11 490.10,251.40 490.20,251.69 490.30,251.97 490.40,252.22 490.50,252.44 490.60,252.61 490.70,252.73 490.80,252.79 490.90,252.79 491.00,252.73 491.10,252.61 491.20,252.44 491.30,252.22 491.40,251.97 491.50,251.69 491.60,251.40 491.70,251.11 491.80,250.83 491.90,250.58 492.00,250.36 492.10,250.19 492.20,250.07 492.30,250.01 492.40,250.01 492.50,250.07 492.60,250.19 492.70,250.36 492.80,250.58 492.90,250.83 493.00,251.11 493.10,251.40 493.20,251.69 493.30,251.97 493.40,252.22 493.50,252.44 493.60,252.61 493.70,252.73 493.80,252.79 493.90,252.79 494.00,252.73 494.10,252.61 494.20,252.44 494.30,252.22 494.40,251.97 494.50,251.69 494.60,251.40 494.70,251.11 494.80,250.83 494.90,250.58 495.00,250.36 495.10,250.19 495.20,250.07 495.30,250.01 495.40,250.01 495.50,250.07 495.60,250.19 495.70,250.36 495.80,250.58 495.90,250.83 496.00,251.11 496.10,251.40 496.20,251.69 496.30,251.97 496.40,252.22 496.50,252.44 496.60,252.61 496.70,252.73 496.80,252.79 496.90,252.79 497.00,252.73 497.10,252.61 497.20,252.44 497.30,252.22 497.40,251.97 497.50,251.69 497.60,251.40 497.70,251.11 497.80,250.83 497.90,250.58 498.00,250.36 498.10,250.19 498.20,250.07 498.30,250.01 498.40,250.01 498.50,250.07 498.60,250.19 498.70,250.36 498.80,250.58 498.90,250.83 499.00,251.11 499.10,251.40 499.20,251.69 499.30,251.97 499.40,252.22 499.50,252.44 499.60,252.61 499.70,252.73 499.80,252.79 499.90,252.79 500.00,252.73 500.10,252.61 500.20,252.44 500.30,252.22 500.40,251.97 500.50,251.69 500.60,251.40 500.70,251.11 500.80,250.83 500.90,250.58 501.00,250.36 501.10,250.19 501.20,250.07 501.30,250.01 501.40,250.01 501.50,250.07 501.60,250.19 501.70,250.36 501.80,250.58 501.90,250.83 502.00,251.11 502.10,251.40 502.20,251.69 502.30,251.97 502.40,252.22 502.50,252.44 502.60,252.61 502.70,252.73 502.80,252.79 502.90,252.79 503.00,252.73 503.10,252.61 503.20,252.44 503.30,252.22 503.40,251.97 503.50,251.69 503.60,251.40 503.70,251.11 503.80,250.83 503.90,250.58 504.00,250.36 504.10,250.19 504.20,250.07 504.30,250.01 504.40,250.01 504.50,250.07 504.60,250.19 504.70,250.36 504.80,250.58 504.90,250.83 505.00,251.11 505.10,251.40 505.20,251.69 505.30,251.97 505.40,252.22 505.50,252.44 505.60,252.61 505.70,252.73 505.80,252.79 505.90,252.79 506.00,252.73 506.10,252.61 506.20,252.44 506.30,252.22 506.40,251.97 506.50,251.69 506.60,251.40 506.70,251.11 506.80,250.83 506.90,250.58 507.00,250.36 507.10,250.19 507.20,250.07 507.30,250.01 507.40,250.01 507.50,250.07 507.60,250.19 507.70,250.36 507.80,250.58 507.90,250.83 508.00,251.11 508.10,251.40 508.20,251.69 508.30,251.97 508.40,252.22 508.50,252.44 508.60,252.61 508.70,252.73 508.80,252.79 508.90,252.79 509.00,252.73 509.10,252.61 509.20,252.44 509.30,252.22 509.40,251.97 509.50,251.69 509.60,251.40 509.70,251.11 509.80,250.83 509.90,250.58 510.00,250.36 510.10,250.19 510.20,250.07 510.30,250.01 510.40,250.01 510.50,250.07 510.60,250.19 510.70,250.36 510.80,250.58 510.90,250.83 511.00,251.11 511.10,251.40 511.20,251.69 511.30,251.97 511.40,252.22 511.50,252.44 511.60,252.61 511.70,252.73 511.80,252.79 511.90,252.79 512.00,252.73 512.10,252.61 512.20,252.44 512.30,252.22 512.40,251.97 512.50,251.69 512.60,251.40 512.70,251.11 512.80,250.83 512.90,250.58 513.00,250.36 513.10,250.19 513.20,250.07 513.30,250.01 513.40,250.01 513.50,250.07 513.60,250.19 513.70,250.36 513.80,250.58 513.90,250.83 514.00,251.11 514.10,251.40 514.20,251.69 514.30,251.97 514.40,252.22 514.50,252.44 514.60,252.61 514.70,252.73 514.80,252.79 514.90,252.79 515.00,252.73 515.10,252.61 515.20,252.44 515.30,252.22 515.40,251.97 515.50,251.69 515.60,251.40 515.70,251.11 515.80,250.83 515.90,250.58 516.00,250.36 516.10,250.19 516.20,250.07 516.30,250.01 516.40,250.01 516.50,250.07 516.60,250.19 516.70,250.36 516.80,250.58 516.90,250.83 517.00,251.11 517.10,251.40 517.20,251.69 517.30,251.97 517.40,252.22 517.50,252.44 517.60,252.61 517.70,252.73 517.80,252.79 517.90,252.79 518.00,252.73 518.10,252.61" fill="none" stroke="#e04a3a" stroke-width="0.9" stroke-dasharray="1.2,0.9"/>
<line x1="504.3" y1="281.8" x2="518.5" y2="290.1" stroke="#222" stroke-width="1.0" stroke-dasharray="1.6,1.2"/>
<ellipse cx="554.2" cy="249.3" rx="4.0" ry="11.0" fill="#f4f4f8" stroke="#c8c8d0" stroke-width="0.6"/>
<ellipse cx="554.2" cy="249.3" rx="2.6" ry="9.6" fill="#5c6494"/>
<ellipse cx="553.6" cy="246" rx="0.9" ry="4" fill="#8890b8"/>
<line x1="531.30" y1="296.90" x2="534.50" y2="284.80" stroke="#9a9a9a" stroke-width="1.60"/>
<line x1="531.30" y1="296.90" x2="522.60" y2="305.40" stroke="#9a9a9a" stroke-width="1.60"/>
<line x1="531.30" y1="296.90" x2="542.80" y2="303.10" stroke="#9a9a9a" stroke-width="1.60"/>
<line x1="531.30" y1="296.90" x2="528.40" y2="292.80" stroke="#9a9a9a" stroke-width="1.60"/>
<line x1="522.60" y1="305.40" x2="515.80" y2="301.50" stroke="#9a9a9a" stroke-width="1.60"/>
<line x1="522.60" y1="305.40" x2="520.80" y2="310.70" stroke="#9a9a9a" stroke-width="1.60"/>
<line x1="522.60" y1="305.40" x2="526.10" y2="311.10" stroke="#9a9a9a" stroke-width="1.60"/>
<line x1="542.80" y1="303.10" x2="549.00" y2="296.20" stroke="#9a9a9a" stroke-width="1.60"/>
<line x1="542.80" y1="303.10" x2="540.90" y2="308.80" stroke="#9a9a9a" stroke-width="1.60"/>
<line x1="542.80" y1="303.10" x2="546.70" y2="307.70" stroke="#9a9a9a" stroke-width="1.60"/>
<circle cx="528.40" cy="292.80" r="2.30" fill="url(#gH)"/>
<circle cx="515.80" cy="301.50" r="2.30" fill="url(#gH)"/>
<circle cx="520.80" cy="310.70" r="2.30" fill="url(#gH)"/>
<circle cx="526.10" cy="311.10" r="2.30" fill="url(#gH)"/>
<circle cx="549.00" cy="296.20" r="2.30" fill="url(#gH)"/>
<circle cx="540.90" cy="308.80" r="2.30" fill="url(#gH)"/>
<circle cx="546.70" cy="307.70" r="2.30" fill="url(#gH)"/>
<circle cx="531.30" cy="296.90" r="3.20" fill="url(#gC)"/>
<circle cx="522.60" cy="305.40" r="3.20" fill="url(#gC)"/>
<circle cx="542.80" cy="303.10" r="3.20" fill="url(#gC)"/>
<circle cx="534.50" cy="284.80" r="4.60" fill="url(#gI)"/>
<line x1="571.80" y1="295.10" x2="574.80" y2="283.60" stroke="#9a9a9a" stroke-width="1.60"/>
<line x1="571.80" y1="295.10" x2="562.70" y2="290.50" stroke="#9a9a9a" stroke-width="1.60"/>
<line x1="571.80" y1="295.10" x2="581.00" y2="294.60" stroke="#9a9a9a" stroke-width="1.60"/>
<line x1="571.80" y1="295.10" x2="568.90" y2="306.10" stroke="#9a9a9a" stroke-width="1.60"/>
<line x1="562.70" y1="290.50" x2="563.80" y2="283.20" stroke="#9a9a9a" stroke-width="1.60"/>
<line x1="562.70" y1="290.50" x2="555.10" y2="290.50" stroke="#9a9a9a" stroke-width="1.60"/>
<line x1="562.70" y1="290.50" x2="561.10" y2="296.20" stroke="#9a9a9a" stroke-width="1.60"/>
<line x1="581.00" y1="294.60" x2="582.10" y2="287.80" stroke="#9a9a9a" stroke-width="1.60"/>
<line x1="581.00" y1="294.60" x2="587.80" y2="297.40" stroke="#9a9a9a" stroke-width="1.60"/>
<line x1="581.00" y1="294.60" x2="579.40" y2="300.80" stroke="#9a9a9a" stroke-width="1.60"/>
<line x1="568.90" y1="306.10" x2="562.00" y2="306.10" stroke="#9a9a9a" stroke-width="1.60"/>
<line x1="568.90" y1="306.10" x2="575.70" y2="308.40" stroke="#9a9a9a" stroke-width="1.60"/>
<line x1="568.90" y1="306.10" x2="567.30" y2="311.10" stroke="#9a9a9a" stroke-width="1.60"/>
<circle cx="563.80" cy="283.20" r="2.30" fill="url(#gH)"/>
<circle cx="555.10" cy="290.50" r="2.30" fill="url(#gH)"/>
<circle cx="561.10" cy="296.20" r="2.30" fill="url(#gH)"/>
<circle cx="582.10" cy="287.80" r="2.30" fill="url(#gH)"/>
<circle cx="587.80" cy="297.40" r="2.30" fill="url(#gH)"/>
<circle cx="579.40" cy="300.80" r="2.30" fill="url(#gH)"/>
<circle cx="562.00" cy="306.10" r="2.30" fill="url(#gH)"/>
<circle cx="575.70" cy="308.40" r="2.30" fill="url(#gH)"/>
<circle cx="567.30" cy="311.10" r="2.30" fill="url(#gH)"/>
<circle cx="571.80" cy="295.10" r="3.20" fill="url(#gC)"/>
<circle cx="562.70" cy="290.50" r="3.20" fill="url(#gC)"/>
<circle cx="581.00" cy="294.60" r="3.20" fill="url(#gC)"/>
<circle cx="568.90" cy="306.10" r="3.20" fill="url(#gC)"/>
<circle cx="574.80" cy="283.60" r="4.60" fill="url(#gI)"/>
<path d="M596.8,237.5 Q611,236.6 625.2,231.4 L630.8,233.2 L629.0,256.8 Q612,258.6 594.4,263.6 Q595.2,250 596.8,237.5 Z" fill="url(#grat)" stroke="#7a5016" stroke-width="0.5"/>
<path d="M625.2,231.4 L630.8,233.2 L629.0,256.8 L625.0,256.6 Z" fill="#8a5c1c" fill-opacity="0.8"/>
<path d="M596.8,237.5 Q611,236.6 625.2,231.4 L624.6,234.6 Q611,239.4 599.4,240.4 Z" fill="#c89a48" fill-opacity="0.7"/>
<ellipse cx="611" cy="248" rx="8" ry="9" fill="#7a4e14" fill-opacity="0.35" filter="url(#blur2)"/>
<path d="M645.2,205.0 L660.4,199.8 A9.0,11.2 0 0 1 666.4,222.4 L653.6,226.8 Z" fill="#4e5256"/>
<path d="M657,200.6 L660.4,199.8 A9.0,11.2 0 0 1 666.4,222.4 L663,223.3 A9,11.2 0 0 0 657,200.6 Z" fill="#1e1f22"/>
<ellipse cx="650.2" cy="215.6" rx="10.8" ry="11.8" fill="url(#ccdf)"/>
<ellipse cx="651.8" cy="216.0" rx="4.6" ry="4.4" fill="#b8b0a8"/>
<ellipse cx="651.8" cy="216.0" rx="3.6" ry="3.4" fill="#f4f0ec"/>
<rect x="648.8" y="214.6" width="6.2" height="2.0" fill="#111" transform="rotate(-25 651.8 215.6)"/>
<line x1="628.5" y1="234" x2="652" y2="216.4" stroke="#fffbe0" stroke-width="9" stroke-opacity="0.6" filter="url(#blur2)"/>
<line x1="627.00" y1="232.00" x2="650.88" y2="214.90" stroke="#e02020" stroke-width="1.15"/>
<line x1="627.60" y1="232.80" x2="651.33" y2="215.50" stroke="#f08020" stroke-width="1.15"/>
<line x1="628.20" y1="233.60" x2="651.77" y2="216.10" stroke="#e8e020" stroke-width="1.15"/>
<line x1="628.80" y1="234.40" x2="652.23" y2="216.70" stroke="#30c040" stroke-width="1.15"/>
<line x1="629.40" y1="235.20" x2="652.67" y2="217.30" stroke="#20a8d8" stroke-width="1.15"/>
<line x1="630.00" y1="236.00" x2="653.12" y2="217.90" stroke="#2848e0" stroke-width="1.15"/>
<text x="338.4" y="353.6" font-size="16.5" font-weight="bold" fill="#000">d</text>
<path d="M447.33,448.60 L447.33,448.48 L447.50,448.32 L447.67,448.16 L447.84,448.00 L448.00,447.82 L448.17,447.64 L448.34,447.46 L448.51,447.26 L448.67,447.06 L448.84,446.85 L449.01,446.63 L449.18,446.40 L449.34,446.17 L449.51,445.92 L449.68,445.67 L449.84,445.41 L450.01,445.14 L450.18,444.85 L450.35,444.56 L450.51,444.26 L450.68,443.95 L450.85,443.63 L451.02,443.29 L451.18,442.95 L451.35,442.60 L451.52,442.23 L451.69,441.85 L451.85,441.46 L452.02,441.06 L452.19,440.65 L452.35,440.23 L452.52,439.79 L452.69,439.34 L452.86,438.88 L453.02,438.41 L453.19,437.92 L453.36,437.42 L453.53,436.91 L453.69,436.38 L453.86,435.84 L454.03,435.29 L454.19,434.73 L454.36,434.15 L454.53,433.56 L454.70,432.95 L454.86,432.34 L455.03,431.70 L455.20,431.06 L455.37,430.41 L455.53,429.74 L455.70,429.05 L455.87,428.36 L456.04,427.65 L456.20,426.93 L456.37,426.20 L456.54,425.46 L456.70,424.70 L456.87,423.93 L457.04,423.16 L457.21,422.37 L457.37,421.57 L457.54,420.76 L457.71,419.94 L457.88,419.11 L458.04,418.27 L458.21,417.42 L458.38,416.56 L458.54,415.70 L458.71,414.83 L458.88,413.95 L459.05,413.06 L459.21,412.17 L459.38,411.27 L459.55,410.37 L459.72,409.46 L459.88,408.55 L460.05,407.63 L460.22,406.72 L460.39,405.80 L460.55,404.88 L460.72,403.96 L460.89,403.04 L461.05,402.12 L461.22,401.20 L461.39,400.28 L461.56,399.37 L461.72,398.46 L461.89,397.56 L462.06,396.66 L462.23,395.76 L462.39,394.88 L462.56,394.00 L462.73,393.13 L462.89,392.27 L463.06,391.41 L463.23,390.57 L463.40,389.74 L463.56,388.93 L463.73,388.12 L463.90,387.33 L464.07,386.55 L464.23,385.79 L464.40,385.05 L464.57,384.32 L464.74,383.61 L464.90,382.92 L465.07,382.25 L465.24,381.60 L465.40,380.96 L465.57,380.35 L465.74,379.76 L465.91,379.20 L466.07,378.65 L466.24,378.13 L466.41,377.64 L466.58,377.16 L466.74,376.72 L466.91,376.30 L467.08,375.90 L467.25,375.53 L467.41,375.19 L467.58,374.88 L467.75,374.59 L467.91,374.33 L468.08,374.10 L468.25,373.90 L468.42,373.73 L468.58,373.58 L468.75,373.47 L468.92,373.38 L469.09,373.33 L469.25,373.30 L469.42,373.31 L469.59,373.34 L469.75,373.40 L469.92,373.49 L470.09,373.61 L470.26,373.76 L470.42,373.94 L470.59,374.15 L470.76,374.38 L470.93,374.65 L471.09,374.94 L471.26,375.26 L471.43,375.60 L471.60,375.98 L471.76,376.38 L471.93,376.80 L472.10,377.26 L472.26,377.73 L472.43,378.23 L472.60,378.76 L472.77,379.31 L472.93,379.88 L473.10,380.47 L473.27,381.09 L473.44,381.73 L473.60,382.38 L473.77,383.06 L473.94,383.75 L474.10,384.47 L474.27,385.20 L474.44,385.95 L474.61,386.71 L474.77,387.49 L474.94,388.28 L475.11,389.09 L475.28,389.91 L475.44,390.74 L475.61,391.58 L475.78,392.44 L475.95,393.30 L476.11,394.17 L476.28,395.05 L476.45,395.94 L476.61,396.84 L476.78,397.74 L476.95,398.64 L477.12,399.55 L477.28,400.47 L477.45,401.38 L477.62,402.30 L477.79,403.22 L477.95,404.14 L478.12,405.06 L478.29,405.98 L478.46,406.90 L478.62,407.82 L478.79,408.73 L478.96,409.64 L479.12,410.55 L479.29,411.45 L479.46,412.35 L479.63,413.24 L479.79,414.12 L479.96,415.00 L480.13,415.87 L480.30,416.73 L480.46,417.59 L480.63,418.44 L480.80,419.27 L480.96,420.10 L481.13,420.92 L481.30,421.73 L481.47,422.53 L481.63,423.31 L481.80,424.09 L481.97,424.85 L482.14,425.61 L482.30,426.35 L482.47,427.08 L482.64,427.79 L482.81,428.50 L482.97,429.19 L483.14,429.87 L483.31,430.54 L483.47,431.19 L483.64,431.83 L483.81,432.46 L483.98,433.07 L484.14,433.68 L484.31,434.26 L484.48,434.84 L484.65,435.40 L484.81,435.95 L484.98,436.49 L485.15,437.01 L485.31,437.52 L485.48,438.02 L485.65,438.50 L485.82,438.97 L485.98,439.43 L486.15,439.88 L486.32,440.31 L486.49,440.73 L486.65,441.14 L486.82,441.54 L486.99,441.93 L487.16,442.30 L487.32,442.67 L487.49,443.02 L487.66,443.36 L487.82,443.69 L487.99,444.01 L488.16,444.32 L488.33,444.62 L488.49,444.91 L488.66,445.19 L488.83,445.46 L489.00,445.72 L489.16,445.97 L489.33,446.22 L489.50,446.45 L489.66,446.67 L489.83,446.89 L490.00,447.10 L490.17,447.30 L490.33,447.49 L490.50,447.68 L490.67,447.86 L490.84,448.03 L491.00,448.20 L491.17,448.35 L491.34,448.51 L491.34,448.60 Z" fill="#6f6fd6" stroke="none"/>
<path d="M447.33,448.60 L447.33,448.48 L447.50,448.32 L447.67,448.16 L447.84,448.00 L448.00,447.82 L448.17,447.64 L448.34,447.46 L448.51,447.26 L448.67,447.06 L448.84,446.85 L449.01,446.63 L449.18,446.40 L449.34,446.17 L449.51,445.92 L449.68,445.67 L449.84,445.41 L450.01,445.14 L450.18,444.85 L450.35,444.56 L450.51,444.26 L450.68,443.95 L450.85,443.63 L451.02,443.29 L451.18,442.95 L451.35,442.60 L451.52,442.23 L451.69,441.85 L451.85,441.46 L452.02,441.06 L452.19,440.65 L452.35,440.23 L452.52,439.79 L452.69,439.34 L452.86,438.88 L453.02,438.41 L453.19,437.92 L453.36,437.42 L453.53,436.91 L453.69,436.38 L453.86,435.84 L454.03,435.29 L454.19,434.73 L454.36,434.15 L454.53,433.56 L454.70,432.95 L454.86,432.34 L455.03,431.70 L455.20,431.06 L455.37,430.41 L455.53,429.74 L455.70,429.05 L455.87,428.36 L456.04,427.65 L456.20,426.93 L456.37,426.20 L456.54,425.46 L456.70,424.70 L456.87,423.93 L457.04,423.16 L457.21,422.37 L457.37,421.57 L457.54,420.76 L457.71,419.94 L457.88,419.11 L458.04,418.27 L458.21,417.42 L458.38,416.56 L458.54,415.70 L458.71,414.83 L458.88,413.95 L459.05,413.06 L459.21,412.17 L459.38,411.27 L459.55,410.37 L459.72,409.46 L459.88,408.55 L460.05,407.63 L460.22,406.72 L460.39,405.80 L460.55,404.88 L460.72,403.96 L460.89,403.04 L461.05,402.12 L461.22,401.20 L461.39,400.28 L461.56,399.37 L461.72,398.46 L461.89,397.56 L462.06,396.66 L462.23,395.76 L462.39,394.88 L462.56,394.00 L462.73,393.13 L462.89,392.27 L463.06,391.41 L463.23,390.57 L463.40,389.74 L463.56,388.93 L463.73,388.12 L463.90,387.33 L464.07,386.55 L464.23,385.79 L464.40,385.05 L464.57,384.32 L464.74,383.61 L464.90,382.92 L465.07,382.25 L465.24,381.60 L465.40,380.96 L465.57,380.35 L465.74,379.76 L465.91,379.20 L466.07,378.65 L466.24,378.13 L466.41,377.64 L466.58,377.16 L466.74,376.72 L466.91,376.30 L467.08,375.90 L467.25,375.53 L467.41,375.19 L467.58,374.88 L467.75,374.59 L467.91,374.33 L468.08,374.10 L468.25,373.90 L468.42,373.73 L468.58,373.58 L468.75,373.47 L468.92,373.38 L469.09,373.33 L469.25,373.30 L469.42,373.31 L469.59,373.34 L469.75,373.40 L469.92,373.49 L470.09,373.61 L470.26,373.76 L470.42,373.94 L470.59,374.15 L470.76,374.38 L470.93,374.65 L471.09,374.94 L471.26,375.26 L471.43,375.60 L471.60,375.98 L471.76,376.38 L471.93,376.80 L472.10,377.26 L472.26,377.73 L472.43,378.23 L472.60,378.76 L472.77,379.31 L472.93,379.88 L473.10,380.47 L473.27,381.09 L473.44,381.73 L473.60,382.38 L473.77,383.06 L473.94,383.75 L474.10,384.47 L474.27,385.20 L474.44,385.95 L474.61,386.71 L474.77,387.49 L474.94,388.28 L475.11,389.09 L475.28,389.91 L475.44,390.74 L475.61,391.58 L475.78,392.44 L475.95,393.30 L476.11,394.17 L476.28,395.05 L476.45,395.94 L476.61,396.84 L476.78,397.74 L476.95,398.64 L477.12,399.55 L477.28,400.47 L477.45,401.38 L477.62,402.30 L477.79,403.22 L477.95,404.14 L478.12,405.06 L478.29,405.98 L478.46,406.90 L478.62,407.82 L478.79,408.73 L478.96,409.64 L479.12,410.55 L479.29,411.45 L479.46,412.35 L479.63,413.24 L479.79,414.12 L479.96,415.00 L480.13,415.87 L480.30,416.73 L480.46,417.59 L480.63,418.44 L480.80,419.27 L480.96,420.10 L481.13,420.92 L481.30,421.73 L481.47,422.53 L481.63,423.31 L481.80,424.09 L481.97,424.85 L482.14,425.61 L482.30,426.35 L482.47,427.08 L482.64,427.79 L482.81,428.50 L482.97,429.19 L483.14,429.87 L483.31,430.54 L483.47,431.19 L483.64,431.83 L483.81,432.46 L483.98,433.07 L484.14,433.68 L484.31,434.26 L484.48,434.84 L484.65,435.40 L484.81,435.95 L484.98,436.49 L485.15,437.01 L485.31,437.52 L485.48,438.02 L485.65,438.50 L485.82,438.97 L485.98,439.43 L486.15,439.88 L486.32,440.31 L486.49,440.73 L486.65,441.14 L486.82,441.54 L486.99,441.93 L487.16,442.30 L487.32,442.67 L487.49,443.02 L487.66,443.36 L487.82,443.69 L487.99,444.01 L488.16,444.32 L488.33,444.62 L488.49,444.91 L488.66,445.19 L488.83,445.46 L489.00,445.72 L489.16,445.97 L489.33,446.22 L489.50,446.45 L489.66,446.67 L489.83,446.89 L490.00,447.10 L490.17,447.30 L490.33,447.49 L490.50,447.68 L490.67,447.86 L490.84,448.03 L491.00,448.20 L491.17,448.35 L491.34,448.51 L491.34,448.60" fill="none" stroke="#2a2ab0" stroke-width="1.6"/>
<clipPath id="clipd"><rect x="356.00" y="350.70" width="174.30" height="97.90"/></clipPath>
<g clip-path="url(#clipd)">
<path d="M356.00,437.78 L356.87,437.26 L357.74,436.72 L358.61,436.16 L359.49,435.59 L360.36,434.99 L361.23,434.37 L362.10,433.73 L362.97,433.07 L363.84,432.38 L364.71,431.68 L365.59,430.96 L366.46,430.21 L367.33,429.45 L368.20,428.66 L369.07,427.86 L369.94,427.03 L370.82,426.18 L371.69,425.32 L372.56,424.43 L373.43,423.52 L374.30,422.60 L375.17,421.66 L376.04,420.69 L376.92,419.72 L377.79,418.72 L378.66,417.71 L379.53,416.68 L380.40,415.64 L381.27,414.59 L382.14,413.52 L383.02,412.44 L383.89,411.35 L384.76,410.25 L385.63,409.14 L386.50,408.02 L387.37,406.90 L388.25,405.77 L389.12,404.64 L389.99,403.51 L390.86,402.37 L391.73,401.24 L392.60,400.11 L393.47,398.98 L394.35,397.86 L395.22,396.74 L396.09,395.63 L396.96,394.53 L397.83,393.44 L398.70,392.36 L399.57,391.30 L400.45,390.25 L401.32,389.23 L402.19,388.22 L403.06,387.23 L403.93,386.26 L404.80,385.32 L405.68,384.40 L406.55,383.51 L407.42,382.65 L408.29,381.82 L409.16,381.02 L410.03,380.25 L410.90,379.52 L411.78,378.82 L412.65,378.16 L413.52,377.54 L414.39,376.96 L415.26,376.41 L416.13,375.91 L417.00,375.45 L417.88,375.03 L418.75,374.66 L419.62,374.33 L420.49,374.04 L421.36,373.81 L422.23,373.61 L423.11,373.46 L423.98,373.36 L424.85,373.31 L425.72,373.30 L426.59,373.33 L427.46,373.39 L428.33,373.49 L429.21,373.62 L430.08,373.79 L430.95,373.99 L431.82,374.22 L432.69,374.48 L433.56,374.78 L434.44,375.11 L435.31,375.47 L436.18,375.87 L437.05,376.29 L437.92,376.75 L438.79,377.23 L439.66,377.74 L440.54,378.28 L441.41,378.85 L442.28,379.45 L443.15,380.07 L444.02,380.71 L444.89,381.38 L445.76,382.08 L446.64,382.80 L447.51,383.54 L448.38,384.30 L449.25,385.08 L450.12,385.87 L450.99,386.69 L451.87,387.52 L452.74,388.37 L453.61,389.24 L454.48,390.12 L455.35,391.01 L456.22,391.91 L457.09,392.83 L457.97,393.75 L458.84,394.69 L459.71,395.63 L460.58,396.58 L461.45,397.53 L462.32,398.49 L463.19,399.45 L464.07,400.42 L464.94,401.39 L465.81,402.36 L466.68,403.33 L467.55,404.30 L468.42,405.27 L469.29,406.23 L470.17,407.20 L471.04,408.16 L471.91,409.11 L472.78,410.06 L473.65,411.00 L474.52,411.94 L475.40,412.87 L476.27,413.79 L477.14,414.70 L478.01,415.60 L478.88,416.49 L479.75,417.37 L480.62,418.24 L481.50,419.10 L482.37,419.95 L483.24,420.78 L484.11,421.61 L484.98,422.41 L485.85,423.21 L486.72,423.99 L487.60,424.76 L488.47,425.51 L489.34,426.25 L490.21,426.98 L491.08,427.69 L491.95,428.38 L492.83,429.06 L493.70,429.72 L494.57,430.37 L495.44,431.01 L496.31,431.63 L497.18,432.23 L498.05,432.82 L498.93,433.39 L499.80,433.95 L500.67,434.49 L501.54,435.02 L502.41,435.53 L503.28,436.03 L504.15,436.51 L505.03,436.98 L505.90,437.44 L506.77,437.88 L507.64,438.30 L508.51,438.72 L509.38,439.12 L510.26,439.50 L511.13,439.87 L512.00,440.23 L512.87,440.58 L513.74,440.92 L514.61,441.24 L515.48,441.55 L516.36,441.85 L517.23,442.14 L518.10,442.42 L518.97,442.69 L519.84,442.94 L520.71,443.19 L521.58,443.42 L522.46,443.65 L523.33,443.87 L524.20,444.08 L525.07,444.28 L525.94,444.47 L526.81,444.65 L527.69,444.83 L528.56,444.99 L529.43,445.15 L530.30,445.30" fill="none" stroke="#111" stroke-width="1.9" stroke-dasharray="0.01,2.45" stroke-linecap="round"/>
<path d="M356.00,441.23 L356.87,440.90 L357.74,440.55 L358.61,440.19 L359.49,439.82 L360.36,439.44 L361.23,439.04 L362.10,438.62 L362.97,438.20 L363.84,437.75 L364.71,437.30 L365.59,436.83 L366.46,436.34 L367.33,435.84 L368.20,435.32 L369.07,434.79 L369.94,434.24 L370.82,433.67 L371.69,433.09 L372.56,432.50 L373.43,431.88 L374.30,431.25 L375.17,430.61 L376.04,429.95 L376.92,429.27 L377.79,428.58 L378.66,427.87 L379.53,427.14 L380.40,426.40 L381.27,425.65 L382.14,424.87 L383.02,424.09 L383.89,423.29 L384.76,422.47 L385.63,421.64 L386.50,420.80 L387.37,419.94 L388.25,419.07 L389.12,418.19 L389.99,417.29 L390.86,416.39 L391.73,415.47 L392.60,414.54 L393.47,413.60 L394.35,412.66 L395.22,411.70 L396.09,410.74 L396.96,409.77 L397.83,408.79 L398.70,407.81 L399.57,406.82 L400.45,405.83 L401.32,404.84 L402.19,403.85 L403.06,402.85 L403.93,401.85 L404.80,400.86 L405.68,399.86 L406.55,398.87 L407.42,397.88 L408.29,396.90 L409.16,395.93 L410.03,394.96 L410.90,393.99 L411.78,393.04 L412.65,392.10 L413.52,391.17 L414.39,390.25 L415.26,389.35 L416.13,388.46 L417.00,387.58 L417.88,386.73 L418.75,385.89 L419.62,385.07 L420.49,384.27 L421.36,383.49 L422.23,382.73 L423.11,382.00 L423.98,381.29 L424.85,380.60 L425.72,379.94 L426.59,379.31 L427.46,378.70 L428.33,378.13 L429.21,377.58 L430.08,377.06 L430.95,376.58 L431.82,376.12 L432.69,375.70 L433.56,375.31 L434.44,374.95 L435.31,374.63 L436.18,374.34 L437.05,374.09 L437.92,373.87 L438.79,373.68 L439.66,373.54 L440.54,373.42 L441.41,373.35 L442.28,373.31 L443.15,373.30 L444.02,373.33 L444.89,373.38 L445.76,373.46 L446.64,373.57 L447.51,373.71 L448.38,373.88 L449.25,374.07 L450.12,374.29 L450.99,374.54 L451.87,374.81 L452.74,375.12 L453.61,375.44 L454.48,375.80 L455.35,376.18 L456.22,376.58 L457.09,377.01 L457.97,377.47 L458.84,377.95 L459.71,378.45 L460.58,378.97 L461.45,379.52 L462.32,380.08 L463.19,380.67 L464.07,381.28 L464.94,381.91 L465.81,382.55 L466.68,383.22 L467.55,383.90 L468.42,384.60 L469.29,385.32 L470.17,386.05 L471.04,386.79 L471.91,387.55 L472.78,388.33 L473.65,389.11 L474.52,389.91 L475.40,390.72 L476.27,391.54 L477.14,392.37 L478.01,393.20 L478.88,394.05 L479.75,394.90 L480.62,395.76 L481.50,396.62 L482.37,397.49 L483.24,398.36 L484.11,399.24 L484.98,400.12 L485.85,401.00 L486.72,401.88 L487.60,402.77 L488.47,403.65 L489.34,404.53 L490.21,405.41 L491.08,406.29 L491.95,407.17 L492.83,408.04 L493.70,408.91 L494.57,409.78 L495.44,410.64 L496.31,411.49 L497.18,412.34 L498.05,413.18 L498.93,414.02 L499.80,414.84 L500.67,415.66 L501.54,416.47 L502.41,417.28 L503.28,418.07 L504.15,418.86 L505.03,419.63 L505.90,420.39 L506.77,421.15 L507.64,421.89 L508.51,422.62 L509.38,423.35 L510.26,424.06 L511.13,424.75 L512.00,425.44 L512.87,426.12 L513.74,426.78 L514.61,427.43 L515.48,428.07 L516.36,428.69 L517.23,429.30 L518.10,429.90 L518.97,430.49 L519.84,431.07 L520.71,431.63 L521.58,432.18 L522.46,432.72 L523.33,433.24 L524.20,433.75 L525.07,434.25 L525.94,434.74 L526.81,435.21 L527.69,435.68 L528.56,436.13 L529.43,436.56 L530.30,436.99" fill="none" stroke="#111" stroke-width="1.8" stroke-dasharray="5.6,3.8"/>
</g>
<path d="M369.20,448.60V445.60M369.20,350.70V353.70M395.97,448.60V445.60M395.97,350.70V353.70M422.74,448.60V445.60M422.74,350.70V353.70M449.51,448.60V445.60M449.51,350.70V353.70M476.28,448.60V445.60M476.28,350.70V353.70M503.05,448.60V445.60M503.05,350.70V353.70M358.49,448.60V447.00M358.49,350.70V352.30M363.85,448.60V447.00M363.85,350.70V352.30M374.55,448.60V447.00M374.55,350.70V352.30M379.91,448.60V447.00M379.91,350.70V352.30M385.26,448.60V447.00M385.26,350.70V352.30M390.62,448.60V447.00M390.62,350.70V352.30M401.32,448.60V447.00M401.32,350.70V352.30M406.68,448.60V447.00M406.68,350.70V352.30M412.03,448.60V447.00M412.03,350.70V352.30M417.39,448.60V447.00M417.39,350.70V352.30M428.09,448.60V447.00M428.09,350.70V352.30M433.45,448.60V447.00M433.45,350.70V352.30M438.80,448.60V447.00M438.80,350.70V352.30M444.16,448.60V447.00M444.16,350.70V352.30M454.86,448.60V447.00M454.86,350.70V352.30M460.22,448.60V447.00M460.22,350.70V352.30M465.57,448.60V447.00M465.57,350.70V352.30M470.93,448.60V447.00M470.93,350.70V352.30M481.63,448.60V447.00M481.63,350.70V352.30M486.99,448.60V447.00M486.99,350.70V352.30M492.34,448.60V447.00M492.34,350.70V352.30M497.70,448.60V447.00M497.70,350.70V352.30M508.40,448.60V447.00M508.40,350.70V352.30M513.76,448.60V447.00M513.76,350.70V352.30M519.11,448.60V447.00M519.11,350.70V352.30M524.47,448.60V447.00M524.47,350.70V352.30M356.00,373.30H359.00M530.30,373.30H527.30M356.00,411.00H359.00M530.30,411.00H527.30" stroke="#222" stroke-width="1.1" fill="none"/>
<rect x="356.00" y="350.70" width="174.30" height="97.90" fill="none" stroke="#222" stroke-width="1.3"/>
<text x="369.20" y="461.80" font-size="11.50" fill="#111" text-anchor="middle">240</text>
<text x="395.97" y="461.80" font-size="11.50" fill="#111" text-anchor="middle">250</text>
<text x="422.74" y="461.80" font-size="11.50" fill="#111" text-anchor="middle">260</text>
<text x="449.51" y="461.80" font-size="11.50" fill="#111" text-anchor="middle">270</text>
<text x="476.28" y="461.80" font-size="11.50" fill="#111" text-anchor="middle">280</text>
<text x="503.05" y="461.80" font-size="11.50" fill="#111" text-anchor="middle">290</text>
<text x="443.00" y="477.00" font-size="11.50" fill="#111" text-anchor="middle">λ(nm)</text>
<text transform="translate(348.4,400.6) rotate(-90)" font-size="11.6" fill="#111" text-anchor="middle">Int (arb. u.)</text>
<text x="369.2" y="367.7" font-size="10.8" fill="#111"><tspan font-style="italic">i</tspan>-C<tspan font-size="7.6" dy="2.4">3</tspan><tspan dy="-2.4">H</tspan><tspan font-size="7.6" dy="2.4">7</tspan><tspan dy="-2.4">I</tspan></text>
<text x="386.20" y="382.70" font-size="10.80" fill="#111" text-anchor="middle">abs.</text>
<text x="410.0" y="423.5" font-size="10.8" fill="#111"><tspan font-style="italic">t</tspan>-C<tspan font-size="7.6" dy="2.4">4</tspan><tspan dy="-2.4">H</tspan><tspan font-size="7.6" dy="2.4">9</tspan><tspan dy="-2.4">I</tspan></text>
<text x="427.30" y="436.60" font-size="10.80" fill="#111" text-anchor="middle">abs.</text>
<path d="M391.2,386.5 L396.0,394.3" stroke="#111" stroke-width="1.3" stroke-dasharray="0.01,2" stroke-linecap="round"/>
<path d="M409.3,402.4 L417.5,412.6" stroke="#111" stroke-width="1.3" stroke-dasharray="3,1.6"/>
<text x="499.00" y="382.00" font-size="11.40" fill="#4646ea" text-anchor="middle">UV</text>
<text x="498.90" y="395.50" font-size="11.40" fill="#4646ea" text-anchor="middle">pump</text>
<text x="543.2" y="353.6" font-size="16.5" font-weight="bold" fill="#000">e</text>
<path d="M561.50,405.60 C561.83,406.17 562.87,407.85 563.50,409.00 C564.13,410.15 564.43,411.15 565.30,412.50 C566.17,413.85 567.37,416.22 568.70,417.10 C570.03,417.98 571.97,417.42 573.30,417.80 C574.63,418.18 575.55,418.63 576.70,419.40 C577.85,420.17 579.17,421.63 580.20,422.40 C581.23,423.17 581.95,424.00 582.90,424.00 C583.85,424.00 584.83,423.05 585.90,422.40 C586.97,421.75 587.97,420.72 589.30,420.10 C590.63,419.48 592.37,419.20 593.90,418.70 C595.43,418.20 597.17,417.93 598.50,417.10 C599.83,416.27 600.75,415.23 601.90,413.70 C603.05,412.17 604.07,409.62 605.40,407.90 C606.73,406.18 608.30,405.03 609.90,403.40 C611.50,401.77 613.47,400.20 615.00,398.10 C616.53,396.00 617.65,393.17 619.10,390.80 C620.55,388.43 622.18,386.00 623.70,383.90 C625.22,381.80 626.68,380.57 628.20,378.20 C629.72,375.83 631.45,371.72 632.80,369.70 C634.15,367.68 635.35,366.87 636.30,366.10 C637.25,365.33 637.55,364.92 638.50,365.10 C639.45,365.28 640.65,366.28 642.00,367.20 C643.35,368.12 645.08,369.65 646.60,370.60 C648.12,371.55 649.77,372.02 651.10,372.90 C652.43,373.78 653.45,374.25 654.60,375.90 C655.75,377.55 656.67,380.13 658.00,382.80 C659.33,385.47 661.07,388.85 662.60,391.90 C664.13,394.95 665.48,398.17 667.20,401.10 C668.92,404.03 671.00,406.07 672.90,409.50 C674.80,412.93 677.45,419.28 678.60,421.70 C679.75,424.12 679.60,423.62 679.80,424.00 L679.8,447.60 L561.5,447.60 Z" fill="#a99cf6"/>
<path d="M561.50,405.60 C561.83,406.17 562.87,407.85 563.50,409.00 C564.13,410.15 564.43,411.15 565.30,412.50 C566.17,413.85 567.37,416.22 568.70,417.10 C570.03,417.98 571.97,417.42 573.30,417.80 C574.63,418.18 575.55,418.63 576.70,419.40 C577.85,420.17 579.17,421.63 580.20,422.40 C581.23,423.17 581.95,424.00 582.90,424.00 C583.85,424.00 584.83,423.05 585.90,422.40 C586.97,421.75 587.97,420.72 589.30,420.10 C590.63,419.48 592.37,419.20 593.90,418.70 C595.43,418.20 597.17,417.93 598.50,417.10 C599.83,416.27 600.75,415.23 601.90,413.70 C603.05,412.17 604.07,409.62 605.40,407.90 C606.73,406.18 608.30,405.03 609.90,403.40 C611.50,401.77 613.47,400.20 615.00,398.10 C616.53,396.00 617.65,393.17 619.10,390.80 C620.55,388.43 622.18,386.00 623.70,383.90 C625.22,381.80 626.68,380.57 628.20,378.20 C629.72,375.83 631.45,371.72 632.80,369.70 C634.15,367.68 635.35,366.87 636.30,366.10 C637.25,365.33 637.55,364.92 638.50,365.10 C639.45,365.28 640.65,366.28 642.00,367.20 C643.35,368.12 645.08,369.65 646.60,370.60 C648.12,371.55 649.77,372.02 651.10,372.90 C652.43,373.78 653.45,374.25 654.60,375.90 C655.75,377.55 656.67,380.13 658.00,382.80 C659.33,385.47 661.07,388.85 662.60,391.90 C664.13,394.95 665.48,398.17 667.20,401.10 C668.92,404.03 671.00,406.07 672.90,409.50 C674.80,412.93 677.45,419.28 678.60,421.70 C679.75,424.12 679.60,423.62 679.80,424.00" fill="none" stroke="#7a66f0" stroke-width="2.0"/>
<path d="M566.40,447.60V444.60M566.40,350.20V353.20M588.90,447.60V444.60M588.90,350.20V353.20M611.40,447.60V444.60M611.40,350.20V353.20M633.90,447.60V444.60M633.90,350.20V353.20M656.40,447.60V444.60M656.40,350.20V353.20M678.90,447.60V444.60M678.90,350.20V353.20M561.90,447.60V446.00M561.90,350.20V351.80M570.90,447.60V446.00M570.90,350.20V351.80M575.40,447.60V446.00M575.40,350.20V351.80M579.90,447.60V446.00M579.90,350.20V351.80M584.40,447.60V446.00M584.40,350.20V351.80M593.40,447.60V446.00M593.40,350.20V351.80M597.90,447.60V446.00M597.90,350.20V351.80M602.40,447.60V446.00M602.40,350.20V351.80M606.90,447.60V446.00M606.90,350.20V351.80M615.90,447.60V446.00M615.90,350.20V351.80M620.40,447.60V446.00M620.40,350.20V351.80M624.90,447.60V446.00M624.90,350.20V351.80M629.40,447.60V446.00M629.40,350.20V351.80M638.40,447.60V446.00M638.40,350.20V351.80M642.90,447.60V446.00M642.90,350.20V351.80M647.40,447.60V446.00M647.40,350.20V351.80M651.90,447.60V446.00M651.90,350.20V351.80M660.90,447.60V446.00M660.90,350.20V351.80M665.40,447.60V446.00M665.40,350.20V351.80M669.90,447.60V446.00M669.90,350.20V351.80M674.40,447.60V446.00M674.40,350.20V351.80M561.50,366.70H564.50M679.80,366.70H676.80M561.50,407.90H564.50M679.80,407.90H676.80M561.50,356.40H563.10M679.80,356.40H678.20M561.50,377.00H563.10M679.80,377.00H678.20M561.50,387.30H563.10M679.80,387.30H678.20M561.50,397.60H563.10M679.80,397.60H678.20M561.50,418.20H563.10M679.80,418.20H678.20M561.50,428.50H563.10M679.80,428.50H678.20M561.50,438.80H563.10M679.80,438.80H678.20" stroke="#222" stroke-width="1.1" fill="none"/>
<rect x="561.50" y="350.20" width="118.30" height="97.40" fill="none" stroke="#222" stroke-width="1.3"/>
<text x="566.40" y="461.80" font-size="11.50" fill="#111" text-anchor="middle">45</text>
<text x="588.90" y="461.80" font-size="11.50" fill="#111" text-anchor="middle">50</text>
<text x="611.40" y="461.80" font-size="11.50" fill="#111" text-anchor="middle">55</text>
<text x="633.90" y="461.80" font-size="11.50" fill="#111" text-anchor="middle">60</text>
<text x="656.40" y="461.80" font-size="11.50" fill="#111" text-anchor="middle">65</text>
<text x="678.90" y="461.80" font-size="11.50" fill="#111" text-anchor="middle">70</text>
<text x="620.60" y="478.40" font-size="11.70" fill="#111" text-anchor="middle">Photon energy (eV)</text>
<text transform="translate(554.6,399.0) rotate(-90)" font-size="11.6" fill="#111" text-anchor="middle">Int (arb. u.)</text>
<text x="589.80" y="382.40" font-size="11.20" fill="#7a55ee" text-anchor="middle">XUV</text>
<text x="589.70" y="396.50" font-size="11.20" fill="#7a55ee" text-anchor="middle">probe</text>
</svg></body></html>
